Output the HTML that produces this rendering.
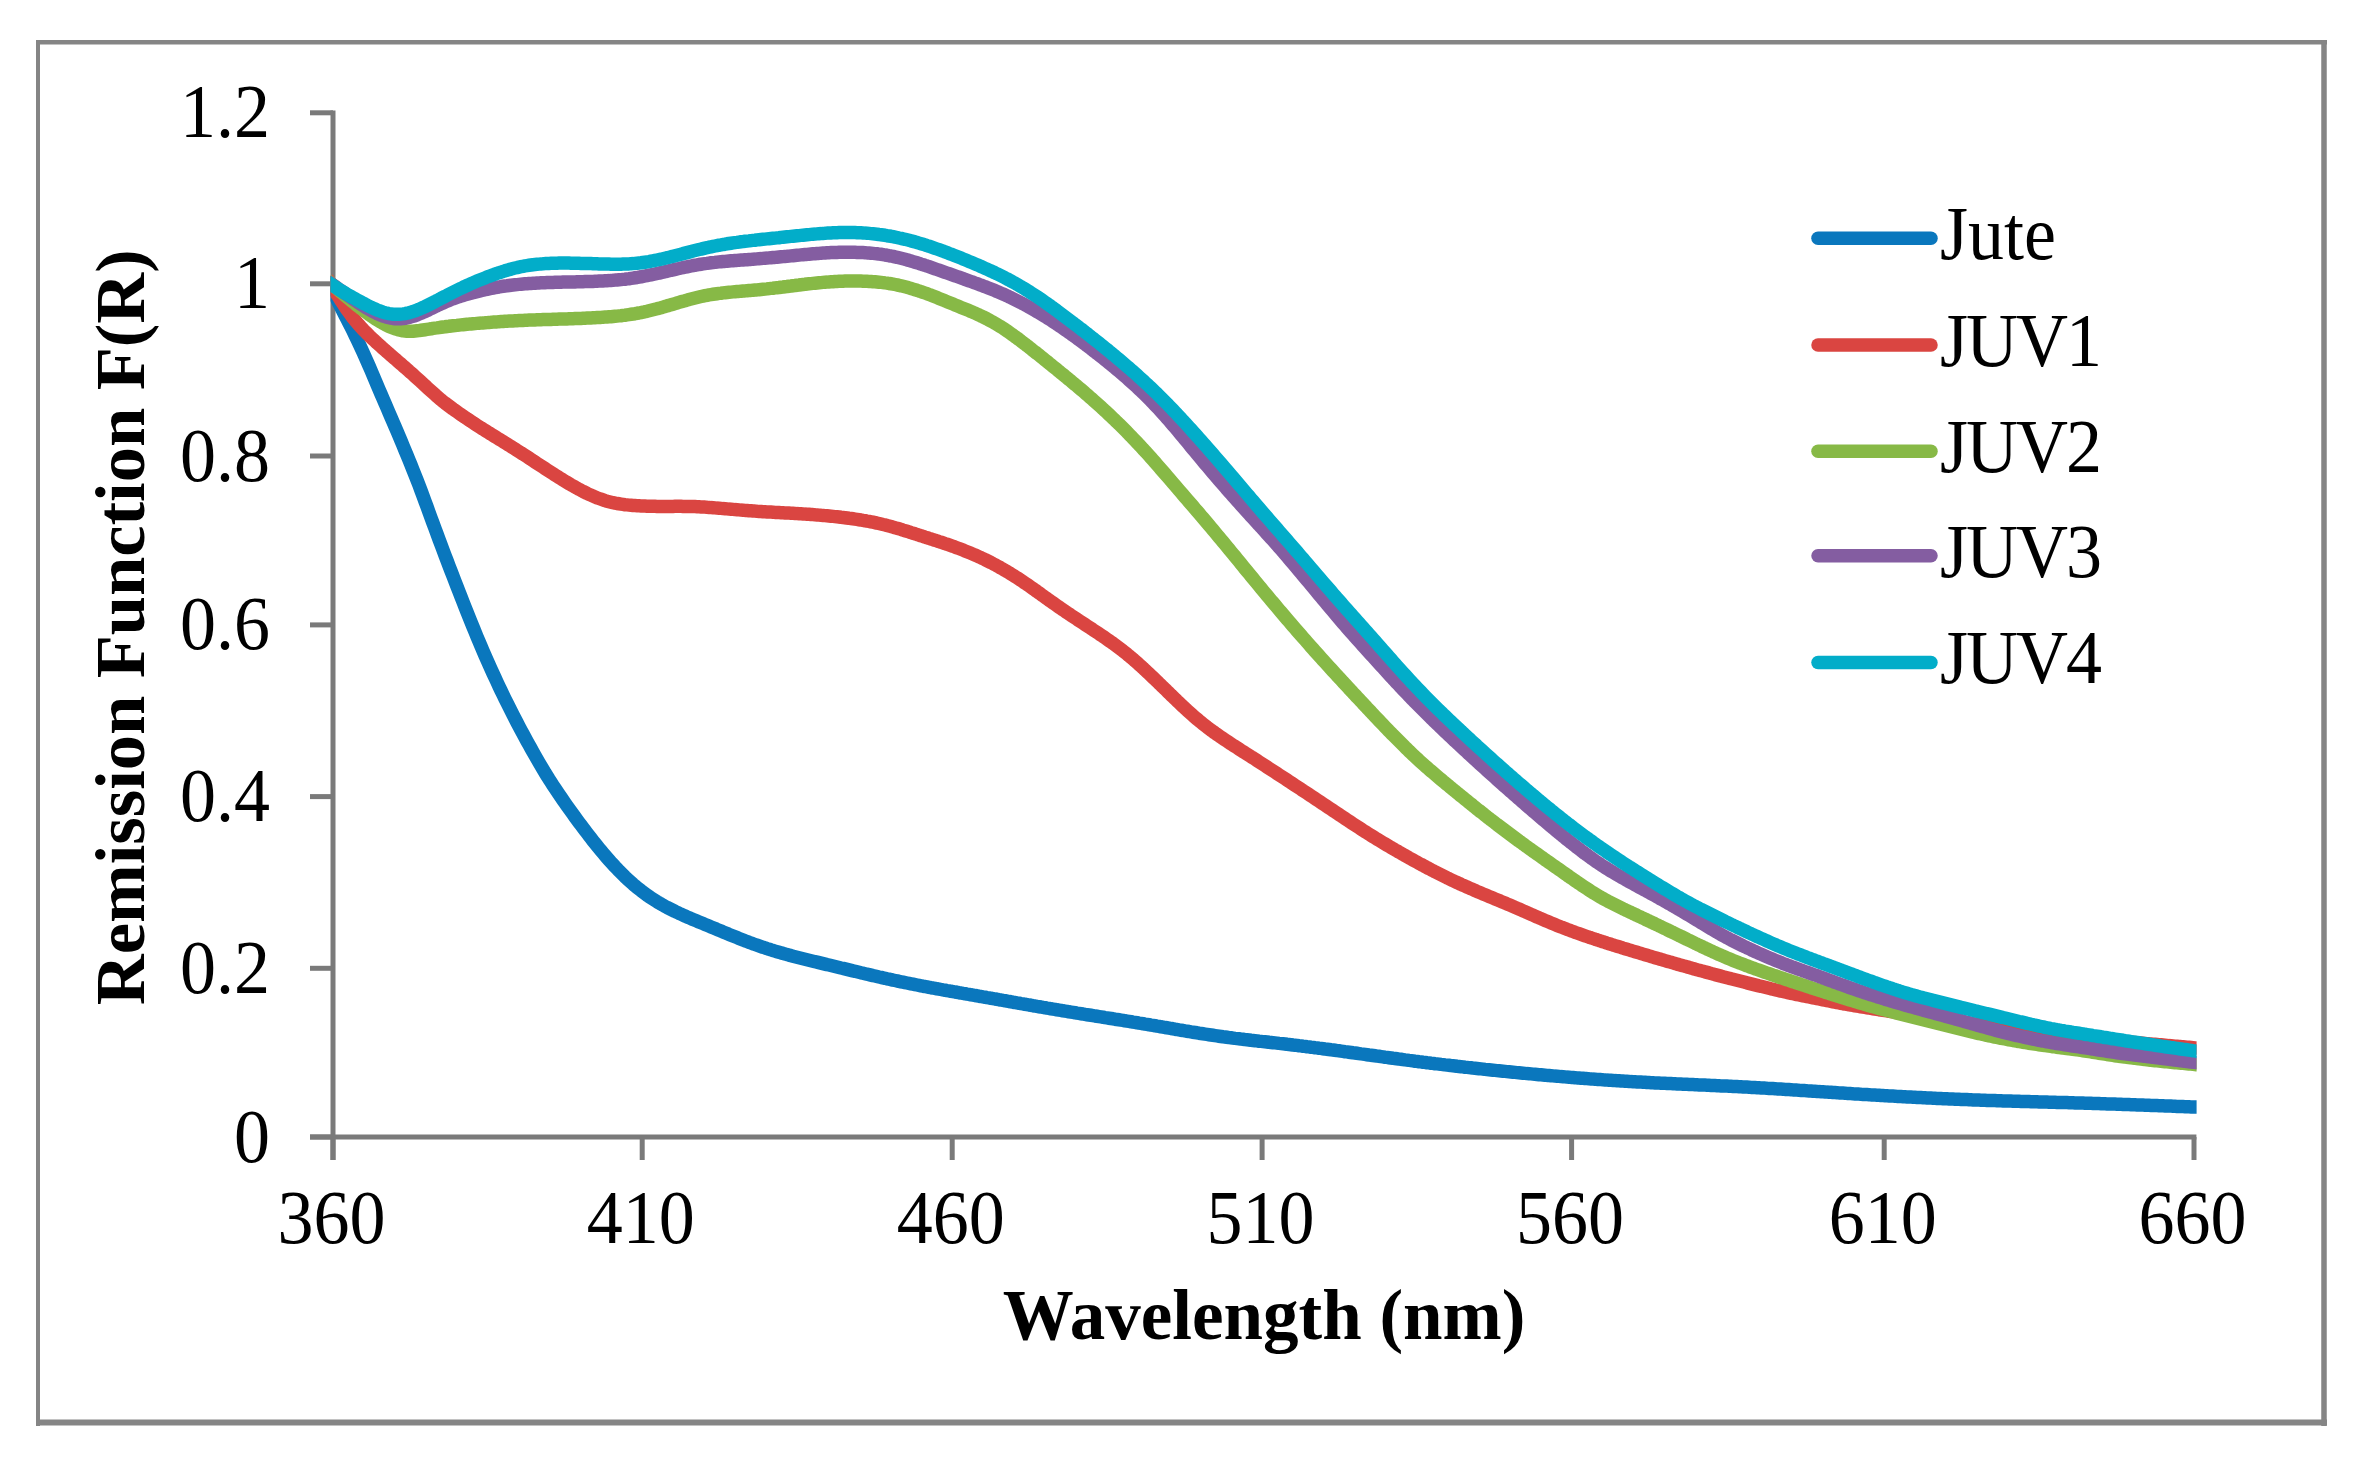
<!DOCTYPE html>
<html><head><meta charset="utf-8"><style>
html,body{margin:0;padding:0;background:#fff;}
body{width:2366px;height:1462px;overflow:hidden;}
svg{display:block;}
text{font-family:"Liberation Serif","Times New Roman",serif;font-size:72px;fill:#000;}
.b{font-weight:bold;font-size:71px;}
.yt{font-weight:bold;font-size:70.5px;}
</style></head><body>
<svg width="2366" height="1462" viewBox="0 0 2366 1462" xmlns="http://www.w3.org/2000/svg">

<defs><clipPath id="pa"><rect x="330.5" y="0" width="1866.1" height="1462"/></clipPath></defs>
<g>
<rect x="0" y="0" width="2366" height="1462" fill="#fff"/>
<g stroke="#858585" fill="none">
<line x1="36" y1="42.2" x2="2327" y2="42.2" stroke-width="4.5"/>
<line x1="38" y1="40" x2="38" y2="1426" stroke-width="4"/>
<line x1="2324" y1="40" x2="2324" y2="1426" stroke-width="5.5"/>
<line x1="36" y1="1422.5" x2="2327" y2="1422.5" stroke-width="6"/>
</g>
<g stroke="#7a7a7a" stroke-width="5" fill="none">
<line x1="333" y1="110.39999999999999" x2="333" y2="1160" />
<line x1="310" y1="1137" x2="2196.4" y2="1137" />
<line x1="310" y1="1137.0" x2="333" y2="1137.0" />
<line x1="310" y1="968.3" x2="333" y2="968.3" />
<line x1="310" y1="796.6" x2="333" y2="796.6" />
<line x1="310" y1="624.9" x2="333" y2="624.9" />
<line x1="310" y1="456.0" x2="333" y2="456.0" />
<line x1="310" y1="283.8" x2="333" y2="283.8" />
<line x1="310" y1="112.8" x2="333" y2="112.8" />
<line x1="333.0" y1="1137" x2="333.0" y2="1160" />
<line x1="642.2" y1="1137" x2="642.2" y2="1160" />
<line x1="952.2" y1="1137" x2="952.2" y2="1160" />
<line x1="1262.1" y1="1137" x2="1262.1" y2="1160" />
<line x1="1571.6" y1="1137" x2="1571.6" y2="1160" />
<line x1="1884.2" y1="1137" x2="1884.2" y2="1160" />
<line x1="2194.0" y1="1137" x2="2194.0" y2="1160" />
</g>
<g fill="none" stroke-width="13.5" stroke-linejoin="round" stroke-linecap="butt" clip-path="url(#pa)">
<path d="M327.0,280.3 L333.0,291.9 L335.0,295.8 L337.0,299.7 L339.0,303.6 L341.0,307.5 L343.0,311.4 L345.0,315.3 L347.0,319.2 L349.0,323.1 L351.0,327.1 L353.0,331.1 L355.0,335.2 L357.0,339.4 L359.0,343.6 L361.0,347.9 L363.0,352.3 L365.0,356.7 L367.0,361.2 L369.0,365.8 L371.0,370.4 L373.0,375.1 L375.0,379.8 L377.0,384.6 L379.0,389.3 L381.0,394.0 L383.0,398.7 L385.0,403.3 L387.0,407.9 L389.0,412.6 L391.0,417.2 L393.0,421.9 L395.0,426.5 L397.0,431.2 L399.0,435.9 L401.0,440.7 L403.0,445.5 L405.0,450.3 L407.0,455.1 L409.0,460.0 L411.0,464.9 L413.0,469.9 L415.0,474.9 L417.0,480.0 L419.0,485.2 L421.0,490.5 L423.0,495.9 L425.0,501.3 L427.0,506.7 L429.0,512.2 L431.0,517.7 L433.0,523.1 L435.0,528.5 L437.0,533.9 L439.0,539.3 L441.0,544.6 L443.0,550.0 L445.0,555.3 L447.0,560.5 L449.0,565.8 L451.0,571.0 L453.0,576.2 L455.0,581.4 L457.0,586.5 L459.0,591.7 L461.0,596.8 L463.0,601.9 L465.0,606.9 L467.0,612.0 L469.0,617.0 L471.0,622.0 L473.0,626.9 L475.0,631.8 L477.0,636.7 L479.0,641.4 L481.0,646.2 L483.0,650.9 L485.0,655.5 L487.0,660.0 L489.0,664.5 L491.0,669.0 L493.0,673.4 L495.0,677.7 L497.0,682.0 L499.0,686.3 L501.0,690.5 L503.0,694.6 L505.0,698.8 L507.0,702.8 L509.0,706.8 L511.0,710.8 L513.0,714.8 L515.0,718.7 L517.0,722.5 L519.0,726.3 L521.0,730.1 L523.0,733.8 L525.0,737.5 L527.0,741.2 L529.0,744.8 L531.0,748.4 L533.0,752.0 L535.0,755.5 L537.0,759.0 L539.0,762.5 L541.0,765.9 L543.0,769.2 L545.0,772.6 L547.0,775.8 L549.0,779.1 L551.0,782.2 L553.0,785.3 L555.0,788.3 L557.0,791.3 L559.0,794.3 L561.0,797.2 L563.0,800.1 L565.0,803.0 L567.0,805.8 L569.0,808.6 L571.0,811.4 L573.0,814.2 L575.0,817.0 L577.0,819.7 L579.0,822.4 L581.0,825.1 L583.0,827.8 L585.0,830.4 L587.0,833.0 L589.0,835.6 L591.0,838.2 L593.0,840.8 L595.0,843.3 L597.0,845.8 L599.0,848.2 L601.0,850.6 L603.0,853.0 L605.0,855.4 L607.0,857.7 L609.0,860.0 L611.0,862.2 L613.0,864.4 L615.0,866.6 L617.0,868.7 L619.0,870.8 L621.0,872.8 L623.0,874.8 L625.0,876.8 L627.0,878.7 L629.0,880.5 L631.0,882.3 L633.0,884.1 L635.0,885.8 L637.0,887.4 L639.0,889.0 L641.0,890.6 L643.0,892.1 L645.0,893.6 L647.0,895.1 L649.0,896.5 L651.0,897.8 L653.0,899.1 L655.0,900.4 L657.0,901.7 L659.0,902.9 L661.0,904.0 L663.0,905.2 L665.0,906.3 L667.0,907.4 L669.0,908.4 L671.0,909.4 L673.0,910.4 L675.0,911.4 L677.0,912.3 L679.0,913.3 L681.0,914.2 L683.0,915.1 L685.0,916.0 L687.0,916.9 L689.0,917.7 L691.0,918.6 L693.0,919.5 L695.0,920.3 L697.0,921.1 L699.0,922.0 L701.0,922.8 L703.0,923.6 L705.0,924.4 L707.0,925.2 L709.0,926.1 L711.0,926.9 L713.0,927.7 L715.0,928.5 L717.0,929.4 L719.0,930.2 L721.0,931.0 L723.0,931.9 L725.0,932.7 L727.0,933.5 L729.0,934.4 L731.0,935.2 L733.0,936.0 L735.0,936.8 L737.0,937.6 L739.0,938.4 L741.0,939.2 L743.0,940.0 L745.0,940.8 L747.0,941.5 L749.0,942.3 L751.0,943.0 L753.0,943.8 L755.0,944.5 L757.0,945.2 L759.0,945.9 L761.0,946.6 L763.0,947.3 L765.0,947.9 L767.0,948.6 L769.0,949.2 L771.0,949.9 L773.0,950.5 L775.0,951.1 L777.0,951.7 L779.0,952.3 L781.0,952.9 L783.0,953.4 L785.0,954.0 L787.0,954.5 L789.0,955.1 L791.0,955.6 L793.0,956.2 L795.0,956.7 L797.0,957.2 L799.0,957.7 L801.0,958.2 L803.0,958.7 L805.0,959.2 L807.0,959.7 L809.0,960.2 L811.0,960.7 L813.0,961.2 L815.0,961.7 L817.0,962.1 L819.0,962.6 L821.0,963.1 L823.0,963.6 L825.0,964.1 L827.0,964.6 L829.0,965.0 L831.0,965.5 L833.0,966.0 L835.0,966.5 L837.0,967.0 L839.0,967.5 L841.0,968.0 L843.0,968.4 L845.0,968.9 L847.0,969.4 L849.0,969.9 L851.0,970.4 L853.0,970.9 L855.0,971.3 L857.0,971.8 L859.0,972.3 L861.0,972.8 L863.0,973.2 L865.0,973.7 L867.0,974.2 L869.0,974.6 L871.0,975.1 L873.0,975.6 L875.0,976.0 L877.0,976.5 L879.0,977.0 L881.0,977.4 L883.0,977.9 L885.0,978.3 L887.0,978.8 L889.0,979.2 L891.0,979.6 L893.0,980.1 L895.0,980.5 L897.0,980.9 L899.0,981.4 L901.0,981.8 L903.0,982.2 L905.0,982.6 L907.0,983.0 L909.0,983.4 L911.0,983.8 L913.0,984.2 L915.0,984.6 L917.0,985.0 L919.0,985.4 L921.0,985.8 L923.0,986.2 L925.0,986.5 L927.0,986.9 L929.0,987.3 L931.0,987.7 L933.0,988.0 L935.0,988.4 L937.0,988.8 L939.0,989.1 L941.0,989.5 L943.0,989.9 L945.0,990.2 L947.0,990.6 L949.0,990.9 L951.0,991.3 L953.0,991.6 L955.0,992.0 L957.0,992.3 L959.0,992.7 L961.0,993.0 L963.0,993.4 L965.0,993.7 L967.0,994.1 L969.0,994.4 L971.0,994.8 L973.0,995.1 L975.0,995.5 L977.0,995.8 L979.0,996.2 L981.0,996.5 L983.0,996.9 L985.0,997.2 L987.0,997.6 L989.0,997.9 L991.0,998.3 L993.0,998.6 L995.0,999.0 L997.0,999.3 L999.0,999.7 L1001.0,1000.0 L1003.0,1000.4 L1005.0,1000.7 L1007.0,1001.1 L1009.0,1001.5 L1011.0,1001.8 L1013.0,1002.2 L1015.0,1002.5 L1017.0,1002.9 L1019.0,1003.2 L1021.0,1003.6 L1023.0,1003.9 L1025.0,1004.3 L1027.0,1004.6 L1029.0,1005.0 L1031.0,1005.3 L1033.0,1005.7 L1035.0,1006.0 L1037.0,1006.4 L1039.0,1006.7 L1041.0,1007.0 L1043.0,1007.4 L1045.0,1007.7 L1047.0,1008.1 L1049.0,1008.4 L1051.0,1008.8 L1053.0,1009.1 L1055.0,1009.4 L1057.0,1009.8 L1059.0,1010.1 L1061.0,1010.4 L1063.0,1010.8 L1065.0,1011.1 L1067.0,1011.4 L1069.0,1011.8 L1071.0,1012.1 L1073.0,1012.4 L1075.0,1012.7 L1077.0,1013.1 L1079.0,1013.4 L1081.0,1013.7 L1083.0,1014.0 L1085.0,1014.4 L1087.0,1014.7 L1089.0,1015.0 L1091.0,1015.3 L1093.0,1015.6 L1095.0,1016.0 L1097.0,1016.3 L1099.0,1016.6 L1101.0,1016.9 L1103.0,1017.2 L1105.0,1017.6 L1107.0,1017.9 L1109.0,1018.2 L1111.0,1018.5 L1113.0,1018.8 L1115.0,1019.2 L1117.0,1019.5 L1119.0,1019.8 L1121.0,1020.1 L1123.0,1020.4 L1125.0,1020.8 L1127.0,1021.1 L1129.0,1021.4 L1131.0,1021.7 L1133.0,1022.1 L1135.0,1022.4 L1137.0,1022.7 L1139.0,1023.1 L1141.0,1023.4 L1143.0,1023.7 L1145.0,1024.1 L1147.0,1024.4 L1149.0,1024.7 L1151.0,1025.1 L1153.0,1025.4 L1155.0,1025.7 L1157.0,1026.1 L1159.0,1026.4 L1161.0,1026.8 L1163.0,1027.1 L1165.0,1027.5 L1167.0,1027.8 L1169.0,1028.1 L1171.0,1028.5 L1173.0,1028.8 L1175.0,1029.2 L1177.0,1029.5 L1179.0,1029.9 L1181.0,1030.2 L1183.0,1030.5 L1185.0,1030.9 L1187.0,1031.2 L1189.0,1031.5 L1191.0,1031.9 L1193.0,1032.2 L1195.0,1032.5 L1197.0,1032.8 L1199.0,1033.2 L1201.0,1033.5 L1203.0,1033.8 L1205.0,1034.1 L1207.0,1034.4 L1209.0,1034.7 L1211.0,1035.0 L1213.0,1035.3 L1215.0,1035.6 L1217.0,1035.9 L1219.0,1036.2 L1221.0,1036.5 L1223.0,1036.8 L1225.0,1037.0 L1227.0,1037.3 L1229.0,1037.6 L1231.0,1037.8 L1233.0,1038.1 L1235.0,1038.4 L1237.0,1038.6 L1239.0,1038.8 L1241.0,1039.1 L1243.0,1039.3 L1245.0,1039.6 L1247.0,1039.8 L1249.0,1040.0 L1251.0,1040.3 L1253.0,1040.5 L1255.0,1040.7 L1257.0,1040.9 L1259.0,1041.2 L1261.0,1041.4 L1263.0,1041.6 L1265.0,1041.8 L1267.0,1042.0 L1269.0,1042.3 L1271.0,1042.5 L1273.0,1042.7 L1275.0,1042.9 L1277.0,1043.1 L1279.0,1043.4 L1281.0,1043.6 L1283.0,1043.8 L1285.0,1044.0 L1287.0,1044.3 L1289.0,1044.5 L1291.0,1044.7 L1293.0,1045.0 L1295.0,1045.2 L1297.0,1045.4 L1299.0,1045.7 L1301.0,1045.9 L1303.0,1046.2 L1305.0,1046.4 L1307.0,1046.7 L1309.0,1046.9 L1311.0,1047.2 L1313.0,1047.4 L1315.0,1047.7 L1317.0,1047.9 L1319.0,1048.2 L1321.0,1048.4 L1323.0,1048.7 L1325.0,1049.0 L1327.0,1049.2 L1329.0,1049.5 L1331.0,1049.8 L1333.0,1050.0 L1335.0,1050.3 L1337.0,1050.6 L1339.0,1050.8 L1341.0,1051.1 L1343.0,1051.4 L1345.0,1051.7 L1347.0,1051.9 L1349.0,1052.2 L1351.0,1052.5 L1353.0,1052.8 L1355.0,1053.0 L1357.0,1053.3 L1359.0,1053.6 L1361.0,1053.9 L1363.0,1054.1 L1365.0,1054.4 L1367.0,1054.7 L1369.0,1055.0 L1371.0,1055.2 L1373.0,1055.5 L1375.0,1055.8 L1377.0,1056.1 L1379.0,1056.3 L1381.0,1056.6 L1383.0,1056.9 L1385.0,1057.2 L1387.0,1057.4 L1389.0,1057.7 L1391.0,1058.0 L1393.0,1058.3 L1395.0,1058.5 L1397.0,1058.8 L1399.0,1059.1 L1401.0,1059.3 L1403.0,1059.6 L1405.0,1059.9 L1407.0,1060.1 L1409.0,1060.4 L1411.0,1060.6 L1413.0,1060.9 L1415.0,1061.2 L1417.0,1061.4 L1419.0,1061.7 L1421.0,1061.9 L1423.0,1062.2 L1425.0,1062.4 L1427.0,1062.7 L1429.0,1062.9 L1431.0,1063.2 L1433.0,1063.4 L1435.0,1063.7 L1437.0,1063.9 L1439.0,1064.1 L1441.0,1064.4 L1443.0,1064.6 L1445.0,1064.9 L1447.0,1065.1 L1449.0,1065.3 L1451.0,1065.6 L1453.0,1065.8 L1455.0,1066.0 L1457.0,1066.3 L1459.0,1066.5 L1461.0,1066.7 L1463.0,1066.9 L1465.0,1067.2 L1467.0,1067.4 L1469.0,1067.6 L1471.0,1067.8 L1473.0,1068.1 L1475.0,1068.3 L1477.0,1068.5 L1479.0,1068.7 L1481.0,1068.9 L1483.0,1069.1 L1485.0,1069.4 L1487.0,1069.6 L1489.0,1069.8 L1491.0,1070.0 L1493.0,1070.2 L1495.0,1070.4 L1497.0,1070.6 L1499.0,1070.8 L1501.0,1071.0 L1503.0,1071.2 L1505.0,1071.4 L1507.0,1071.6 L1509.0,1071.8 L1511.0,1072.0 L1513.0,1072.2 L1515.0,1072.4 L1517.0,1072.6 L1519.0,1072.8 L1521.0,1073.0 L1523.0,1073.2 L1525.0,1073.4 L1527.0,1073.6 L1529.0,1073.7 L1531.0,1073.9 L1533.0,1074.1 L1535.0,1074.3 L1537.0,1074.5 L1539.0,1074.7 L1541.0,1074.8 L1543.0,1075.0 L1545.0,1075.2 L1547.0,1075.4 L1549.0,1075.5 L1551.0,1075.7 L1553.0,1075.9 L1555.0,1076.1 L1557.0,1076.2 L1559.0,1076.4 L1561.0,1076.6 L1563.0,1076.7 L1565.0,1076.9 L1567.0,1077.1 L1569.0,1077.2 L1571.0,1077.4 L1573.0,1077.5 L1575.0,1077.7 L1577.0,1077.9 L1579.0,1078.0 L1581.0,1078.2 L1583.0,1078.3 L1585.0,1078.5 L1587.0,1078.6 L1589.0,1078.8 L1591.0,1078.9 L1593.0,1079.1 L1595.0,1079.2 L1597.0,1079.4 L1599.0,1079.5 L1601.0,1079.6 L1603.0,1079.8 L1605.0,1079.9 L1607.0,1080.1 L1609.0,1080.2 L1611.0,1080.3 L1613.0,1080.4 L1615.0,1080.6 L1617.0,1080.7 L1619.0,1080.8 L1621.0,1081.0 L1623.0,1081.1 L1625.0,1081.2 L1627.0,1081.3 L1629.0,1081.4 L1631.0,1081.6 L1633.0,1081.7 L1635.0,1081.8 L1637.0,1081.9 L1639.0,1082.0 L1641.0,1082.1 L1643.0,1082.2 L1645.0,1082.3 L1647.0,1082.5 L1649.0,1082.6 L1651.0,1082.7 L1653.0,1082.8 L1655.0,1082.9 L1657.0,1083.0 L1659.0,1083.1 L1661.0,1083.2 L1663.0,1083.3 L1665.0,1083.3 L1667.0,1083.4 L1669.0,1083.5 L1671.0,1083.6 L1673.0,1083.7 L1675.0,1083.8 L1677.0,1083.9 L1679.0,1084.0 L1681.0,1084.1 L1683.0,1084.2 L1685.0,1084.3 L1687.0,1084.3 L1689.0,1084.4 L1691.0,1084.5 L1693.0,1084.6 L1695.0,1084.7 L1697.0,1084.8 L1699.0,1084.9 L1701.0,1085.0 L1703.0,1085.1 L1705.0,1085.1 L1707.0,1085.2 L1709.0,1085.3 L1711.0,1085.4 L1713.0,1085.5 L1715.0,1085.6 L1717.0,1085.7 L1719.0,1085.8 L1721.0,1085.9 L1723.0,1086.0 L1725.0,1086.0 L1727.0,1086.1 L1729.0,1086.2 L1731.0,1086.3 L1733.0,1086.4 L1735.0,1086.5 L1737.0,1086.6 L1739.0,1086.7 L1741.0,1086.8 L1743.0,1086.9 L1745.0,1087.0 L1747.0,1087.1 L1749.0,1087.2 L1751.0,1087.4 L1753.0,1087.5 L1755.0,1087.6 L1757.0,1087.7 L1759.0,1087.8 L1761.0,1087.9 L1763.0,1088.0 L1765.0,1088.1 L1767.0,1088.3 L1769.0,1088.4 L1771.0,1088.5 L1773.0,1088.6 L1775.0,1088.7 L1777.0,1088.9 L1779.0,1089.0 L1781.0,1089.1 L1783.0,1089.2 L1785.0,1089.4 L1787.0,1089.5 L1789.0,1089.6 L1791.0,1089.7 L1793.0,1089.9 L1795.0,1090.0 L1797.0,1090.1 L1799.0,1090.3 L1801.0,1090.4 L1803.0,1090.5 L1805.0,1090.6 L1807.0,1090.8 L1809.0,1090.9 L1811.0,1091.0 L1813.0,1091.2 L1815.0,1091.3 L1817.0,1091.4 L1819.0,1091.6 L1821.0,1091.7 L1823.0,1091.8 L1825.0,1091.9 L1827.0,1092.1 L1829.0,1092.2 L1831.0,1092.3 L1833.0,1092.5 L1835.0,1092.6 L1837.0,1092.7 L1839.0,1092.9 L1841.0,1093.0 L1843.0,1093.1 L1845.0,1093.2 L1847.0,1093.4 L1849.0,1093.5 L1851.0,1093.6 L1853.0,1093.8 L1855.0,1093.9 L1857.0,1094.0 L1859.0,1094.1 L1861.0,1094.3 L1863.0,1094.4 L1865.0,1094.5 L1867.0,1094.6 L1869.0,1094.7 L1871.0,1094.9 L1873.0,1095.0 L1875.0,1095.1 L1877.0,1095.2 L1879.0,1095.3 L1881.0,1095.5 L1883.0,1095.6 L1885.0,1095.7 L1887.0,1095.8 L1889.0,1095.9 L1891.0,1096.0 L1893.0,1096.1 L1895.0,1096.2 L1897.0,1096.4 L1899.0,1096.5 L1901.0,1096.6 L1903.0,1096.7 L1905.0,1096.8 L1907.0,1096.9 L1909.0,1097.0 L1911.0,1097.1 L1913.0,1097.2 L1915.0,1097.3 L1917.0,1097.4 L1919.0,1097.5 L1921.0,1097.6 L1923.0,1097.7 L1925.0,1097.8 L1927.0,1097.9 L1929.0,1098.0 L1931.0,1098.1 L1933.0,1098.2 L1935.0,1098.3 L1937.0,1098.4 L1939.0,1098.5 L1941.0,1098.6 L1943.0,1098.7 L1945.0,1098.7 L1947.0,1098.8 L1949.0,1098.9 L1951.0,1099.0 L1953.0,1099.1 L1955.0,1099.2 L1957.0,1099.3 L1959.0,1099.3 L1961.0,1099.4 L1963.0,1099.5 L1965.0,1099.6 L1967.0,1099.6 L1969.0,1099.7 L1971.0,1099.8 L1973.0,1099.9 L1975.0,1099.9 L1977.0,1100.0 L1979.0,1100.1 L1981.0,1100.2 L1983.0,1100.2 L1985.0,1100.3 L1987.0,1100.4 L1989.0,1100.4 L1991.0,1100.5 L1993.0,1100.6 L1995.0,1100.6 L1997.0,1100.7 L1999.0,1100.7 L2001.0,1100.8 L2003.0,1100.9 L2005.0,1100.9 L2007.0,1101.0 L2009.0,1101.0 L2011.0,1101.1 L2013.0,1101.2 L2015.0,1101.2 L2017.0,1101.3 L2019.0,1101.3 L2021.0,1101.4 L2023.0,1101.4 L2025.0,1101.5 L2027.0,1101.6 L2029.0,1101.6 L2031.0,1101.7 L2033.0,1101.7 L2035.0,1101.8 L2037.0,1101.8 L2039.0,1101.9 L2041.0,1101.9 L2043.0,1102.0 L2045.0,1102.0 L2047.0,1102.1 L2049.0,1102.2 L2051.0,1102.2 L2053.0,1102.3 L2055.0,1102.3 L2057.0,1102.4 L2059.0,1102.4 L2061.0,1102.5 L2063.0,1102.5 L2065.0,1102.6 L2067.0,1102.6 L2069.0,1102.7 L2071.0,1102.8 L2073.0,1102.8 L2075.0,1102.9 L2077.0,1102.9 L2079.0,1103.0 L2081.0,1103.0 L2083.0,1103.1 L2085.0,1103.2 L2087.0,1103.2 L2089.0,1103.3 L2091.0,1103.3 L2093.0,1103.4 L2095.0,1103.5 L2097.0,1103.5 L2099.0,1103.6 L2101.0,1103.7 L2103.0,1103.7 L2105.0,1103.8 L2107.0,1103.9 L2109.0,1103.9 L2111.0,1104.0 L2113.0,1104.1 L2115.0,1104.1 L2117.0,1104.2 L2119.0,1104.3 L2121.0,1104.3 L2123.0,1104.4 L2125.0,1104.5 L2127.0,1104.5 L2129.0,1104.6 L2131.0,1104.7 L2133.0,1104.7 L2135.0,1104.8 L2137.0,1104.9 L2139.0,1105.0 L2141.0,1105.0 L2143.0,1105.1 L2145.0,1105.2 L2147.0,1105.2 L2149.0,1105.3 L2151.0,1105.4 L2153.0,1105.5 L2155.0,1105.5 L2157.0,1105.6 L2159.0,1105.7 L2161.0,1105.8 L2163.0,1105.8 L2165.0,1105.9 L2167.0,1106.0 L2169.0,1106.1 L2171.0,1106.1 L2173.0,1106.2 L2175.0,1106.3 L2177.0,1106.4 L2179.0,1106.4 L2181.0,1106.5 L2183.0,1106.6 L2185.0,1106.7 L2187.0,1106.7 L2189.0,1106.8 L2191.0,1106.9 L2193.0,1107.0 L2195.0,1107.0 L2196.6,1107.1 L2202.6,1107.3" stroke="#0A77BD"/>
<path d="M327.0,278.2 L333.0,287.8 L335.0,291.1 L337.0,294.3 L339.0,297.4 L341.0,300.6 L343.0,303.7 L345.0,306.7 L347.0,309.6 L349.0,312.4 L351.0,315.2 L353.0,317.8 L355.0,320.3 L357.0,322.7 L359.0,325.0 L361.0,327.2 L363.0,329.4 L365.0,331.4 L367.0,333.5 L369.0,335.4 L371.0,337.4 L373.0,339.3 L375.0,341.1 L377.0,343.0 L379.0,344.8 L381.0,346.6 L383.0,348.4 L385.0,350.1 L387.0,351.9 L389.0,353.6 L391.0,355.4 L393.0,357.1 L395.0,358.8 L397.0,360.6 L399.0,362.3 L401.0,364.0 L403.0,365.8 L405.0,367.5 L407.0,369.3 L409.0,371.1 L411.0,372.8 L413.0,374.6 L415.0,376.4 L417.0,378.2 L419.0,380.0 L421.0,381.8 L423.0,383.7 L425.0,385.5 L427.0,387.4 L429.0,389.2 L431.0,391.0 L433.0,392.8 L435.0,394.6 L437.0,396.4 L439.0,398.1 L441.0,399.8 L443.0,401.4 L445.0,403.0 L447.0,404.5 L449.0,406.0 L451.0,407.5 L453.0,409.0 L455.0,410.4 L457.0,411.8 L459.0,413.2 L461.0,414.6 L463.0,416.0 L465.0,417.3 L467.0,418.7 L469.0,420.0 L471.0,421.3 L473.0,422.7 L475.0,424.0 L477.0,425.3 L479.0,426.6 L481.0,427.9 L483.0,429.1 L485.0,430.4 L487.0,431.6 L489.0,432.9 L491.0,434.1 L493.0,435.4 L495.0,436.6 L497.0,437.8 L499.0,439.1 L501.0,440.3 L503.0,441.5 L505.0,442.8 L507.0,444.0 L509.0,445.3 L511.0,446.5 L513.0,447.8 L515.0,449.0 L517.0,450.3 L519.0,451.6 L521.0,452.9 L523.0,454.1 L525.0,455.4 L527.0,456.7 L529.0,458.0 L531.0,459.3 L533.0,460.7 L535.0,462.0 L537.0,463.3 L539.0,464.6 L541.0,465.9 L543.0,467.2 L545.0,468.5 L547.0,469.8 L549.0,471.1 L551.0,472.4 L553.0,473.7 L555.0,475.0 L557.0,476.2 L559.0,477.5 L561.0,478.7 L563.0,480.0 L565.0,481.2 L567.0,482.4 L569.0,483.6 L571.0,484.8 L573.0,485.9 L575.0,487.0 L577.0,488.2 L579.0,489.3 L581.0,490.3 L583.0,491.4 L585.0,492.4 L587.0,493.4 L589.0,494.3 L591.0,495.2 L593.0,496.1 L595.0,496.9 L597.0,497.8 L599.0,498.5 L601.0,499.2 L603.0,499.9 L605.0,500.6 L607.0,501.2 L609.0,501.7 L611.0,502.2 L613.0,502.7 L615.0,503.1 L617.0,503.5 L619.0,503.8 L621.0,504.1 L623.0,504.4 L625.0,504.7 L627.0,504.9 L629.0,505.1 L631.0,505.3 L633.0,505.5 L635.0,505.6 L637.0,505.7 L639.0,505.8 L641.0,505.9 L643.0,506.0 L645.0,506.1 L647.0,506.2 L649.0,506.2 L651.0,506.3 L653.0,506.3 L655.0,506.3 L657.0,506.4 L659.0,506.4 L661.0,506.4 L663.0,506.4 L665.0,506.4 L667.0,506.4 L669.0,506.4 L671.0,506.4 L673.0,506.4 L675.0,506.3 L677.0,506.3 L679.0,506.3 L681.0,506.3 L683.0,506.4 L685.0,506.4 L687.0,506.4 L689.0,506.4 L691.0,506.5 L693.0,506.5 L695.0,506.6 L697.0,506.7 L699.0,506.8 L701.0,506.9 L703.0,507.0 L705.0,507.1 L707.0,507.3 L709.0,507.4 L711.0,507.6 L713.0,507.7 L715.0,507.9 L717.0,508.1 L719.0,508.2 L721.0,508.4 L723.0,508.6 L725.0,508.7 L727.0,508.9 L729.0,509.1 L731.0,509.2 L733.0,509.4 L735.0,509.6 L737.0,509.7 L739.0,509.9 L741.0,510.1 L743.0,510.2 L745.0,510.4 L747.0,510.5 L749.0,510.7 L751.0,510.8 L753.0,511.0 L755.0,511.1 L757.0,511.3 L759.0,511.4 L761.0,511.5 L763.0,511.7 L765.0,511.8 L767.0,511.9 L769.0,512.0 L771.0,512.1 L773.0,512.2 L775.0,512.4 L777.0,512.5 L779.0,512.6 L781.0,512.7 L783.0,512.8 L785.0,512.9 L787.0,513.0 L789.0,513.1 L791.0,513.2 L793.0,513.3 L795.0,513.4 L797.0,513.6 L799.0,513.7 L801.0,513.8 L803.0,513.9 L805.0,514.1 L807.0,514.2 L809.0,514.3 L811.0,514.5 L813.0,514.6 L815.0,514.8 L817.0,514.9 L819.0,515.1 L821.0,515.3 L823.0,515.4 L825.0,515.6 L827.0,515.8 L829.0,516.0 L831.0,516.2 L833.0,516.4 L835.0,516.6 L837.0,516.8 L839.0,517.0 L841.0,517.3 L843.0,517.5 L845.0,517.7 L847.0,518.0 L849.0,518.3 L851.0,518.5 L853.0,518.8 L855.0,519.1 L857.0,519.4 L859.0,519.7 L861.0,520.0 L863.0,520.4 L865.0,520.7 L867.0,521.1 L869.0,521.4 L871.0,521.8 L873.0,522.2 L875.0,522.6 L877.0,523.1 L879.0,523.5 L881.0,524.0 L883.0,524.5 L885.0,524.9 L887.0,525.5 L889.0,526.0 L891.0,526.5 L893.0,527.1 L895.0,527.7 L897.0,528.2 L899.0,528.8 L901.0,529.4 L903.0,530.1 L905.0,530.7 L907.0,531.3 L909.0,531.9 L911.0,532.6 L913.0,533.2 L915.0,533.8 L917.0,534.5 L919.0,535.1 L921.0,535.8 L923.0,536.4 L925.0,537.1 L927.0,537.7 L929.0,538.4 L931.0,539.0 L933.0,539.6 L935.0,540.3 L937.0,540.9 L939.0,541.6 L941.0,542.2 L943.0,542.9 L945.0,543.6 L947.0,544.2 L949.0,544.9 L951.0,545.6 L953.0,546.3 L955.0,547.1 L957.0,547.8 L959.0,548.5 L961.0,549.3 L963.0,550.1 L965.0,550.9 L967.0,551.7 L969.0,552.5 L971.0,553.3 L973.0,554.2 L975.0,555.0 L977.0,555.9 L979.0,556.8 L981.0,557.7 L983.0,558.7 L985.0,559.6 L987.0,560.6 L989.0,561.6 L991.0,562.6 L993.0,563.7 L995.0,564.7 L997.0,565.8 L999.0,566.9 L1001.0,568.1 L1003.0,569.2 L1005.0,570.4 L1007.0,571.5 L1009.0,572.7 L1011.0,574.0 L1013.0,575.2 L1015.0,576.5 L1017.0,577.7 L1019.0,579.0 L1021.0,580.4 L1023.0,581.7 L1025.0,583.1 L1027.0,584.4 L1029.0,585.8 L1031.0,587.2 L1033.0,588.6 L1035.0,590.0 L1037.0,591.5 L1039.0,592.9 L1041.0,594.3 L1043.0,595.8 L1045.0,597.2 L1047.0,598.6 L1049.0,600.1 L1051.0,601.5 L1053.0,602.9 L1055.0,604.3 L1057.0,605.7 L1059.0,607.1 L1061.0,608.5 L1063.0,609.9 L1065.0,611.2 L1067.0,612.6 L1069.0,613.9 L1071.0,615.3 L1073.0,616.6 L1075.0,617.9 L1077.0,619.2 L1079.0,620.6 L1081.0,621.9 L1083.0,623.2 L1085.0,624.5 L1087.0,625.8 L1089.0,627.1 L1091.0,628.4 L1093.0,629.8 L1095.0,631.1 L1097.0,632.4 L1099.0,633.7 L1101.0,635.1 L1103.0,636.4 L1105.0,637.8 L1107.0,639.2 L1109.0,640.6 L1111.0,642.0 L1113.0,643.4 L1115.0,644.9 L1117.0,646.4 L1119.0,647.9 L1121.0,649.4 L1123.0,650.9 L1125.0,652.5 L1127.0,654.1 L1129.0,655.8 L1131.0,657.4 L1133.0,659.1 L1135.0,660.9 L1137.0,662.6 L1139.0,664.4 L1141.0,666.2 L1143.0,668.1 L1145.0,669.9 L1147.0,671.8 L1149.0,673.7 L1151.0,675.6 L1153.0,677.5 L1155.0,679.4 L1157.0,681.3 L1159.0,683.3 L1161.0,685.2 L1163.0,687.2 L1165.0,689.1 L1167.0,691.1 L1169.0,693.0 L1171.0,695.0 L1173.0,696.9 L1175.0,698.8 L1177.0,700.8 L1179.0,702.7 L1181.0,704.6 L1183.0,706.5 L1185.0,708.3 L1187.0,710.2 L1189.0,712.0 L1191.0,713.8 L1193.0,715.6 L1195.0,717.3 L1197.0,719.0 L1199.0,720.7 L1201.0,722.3 L1203.0,723.9 L1205.0,725.5 L1207.0,727.1 L1209.0,728.6 L1211.0,730.1 L1213.0,731.5 L1215.0,733.0 L1217.0,734.4 L1219.0,735.8 L1221.0,737.2 L1223.0,738.5 L1225.0,739.9 L1227.0,741.2 L1229.0,742.5 L1231.0,743.9 L1233.0,745.2 L1235.0,746.4 L1237.0,747.7 L1239.0,749.0 L1241.0,750.3 L1243.0,751.6 L1245.0,752.8 L1247.0,754.1 L1249.0,755.4 L1251.0,756.7 L1253.0,757.9 L1255.0,759.2 L1257.0,760.5 L1259.0,761.8 L1261.0,763.1 L1263.0,764.4 L1265.0,765.7 L1267.0,767.0 L1269.0,768.3 L1271.0,769.6 L1273.0,770.9 L1275.0,772.2 L1277.0,773.5 L1279.0,774.8 L1281.0,776.1 L1283.0,777.4 L1285.0,778.7 L1287.0,780.0 L1289.0,781.3 L1291.0,782.6 L1293.0,784.0 L1295.0,785.3 L1297.0,786.6 L1299.0,787.9 L1301.0,789.2 L1303.0,790.6 L1305.0,791.9 L1307.0,793.2 L1309.0,794.5 L1311.0,795.9 L1313.0,797.2 L1315.0,798.5 L1317.0,799.9 L1319.0,801.2 L1321.0,802.5 L1323.0,803.9 L1325.0,805.2 L1327.0,806.5 L1329.0,807.9 L1331.0,809.2 L1333.0,810.5 L1335.0,811.8 L1337.0,813.2 L1339.0,814.5 L1341.0,815.8 L1343.0,817.2 L1345.0,818.5 L1347.0,819.8 L1349.0,821.1 L1351.0,822.5 L1353.0,823.8 L1355.0,825.1 L1357.0,826.4 L1359.0,827.7 L1361.0,829.0 L1363.0,830.3 L1365.0,831.6 L1367.0,832.8 L1369.0,834.1 L1371.0,835.4 L1373.0,836.6 L1375.0,837.8 L1377.0,839.1 L1379.0,840.3 L1381.0,841.5 L1383.0,842.7 L1385.0,843.9 L1387.0,845.1 L1389.0,846.3 L1391.0,847.5 L1393.0,848.6 L1395.0,849.8 L1397.0,850.9 L1399.0,852.1 L1401.0,853.2 L1403.0,854.4 L1405.0,855.5 L1407.0,856.6 L1409.0,857.8 L1411.0,858.9 L1413.0,860.0 L1415.0,861.1 L1417.0,862.2 L1419.0,863.3 L1421.0,864.4 L1423.0,865.4 L1425.0,866.5 L1427.0,867.6 L1429.0,868.6 L1431.0,869.7 L1433.0,870.7 L1435.0,871.8 L1437.0,872.8 L1439.0,873.8 L1441.0,874.8 L1443.0,875.8 L1445.0,876.8 L1447.0,877.8 L1449.0,878.7 L1451.0,879.7 L1453.0,880.7 L1455.0,881.6 L1457.0,882.5 L1459.0,883.4 L1461.0,884.4 L1463.0,885.3 L1465.0,886.1 L1467.0,887.0 L1469.0,887.9 L1471.0,888.8 L1473.0,889.6 L1475.0,890.5 L1477.0,891.4 L1479.0,892.2 L1481.0,893.1 L1483.0,893.9 L1485.0,894.7 L1487.0,895.6 L1489.0,896.4 L1491.0,897.2 L1493.0,898.1 L1495.0,898.9 L1497.0,899.7 L1499.0,900.5 L1501.0,901.4 L1503.0,902.2 L1505.0,903.0 L1507.0,903.9 L1509.0,904.7 L1511.0,905.6 L1513.0,906.4 L1515.0,907.3 L1517.0,908.2 L1519.0,909.0 L1521.0,909.9 L1523.0,910.8 L1525.0,911.7 L1527.0,912.6 L1529.0,913.4 L1531.0,914.3 L1533.0,915.2 L1535.0,916.1 L1537.0,917.0 L1539.0,917.8 L1541.0,918.7 L1543.0,919.6 L1545.0,920.4 L1547.0,921.2 L1549.0,922.1 L1551.0,922.9 L1553.0,923.7 L1555.0,924.6 L1557.0,925.4 L1559.0,926.2 L1561.0,927.0 L1563.0,927.7 L1565.0,928.5 L1567.0,929.3 L1569.0,930.0 L1571.0,930.8 L1573.0,931.5 L1575.0,932.3 L1577.0,933.0 L1579.0,933.7 L1581.0,934.4 L1583.0,935.1 L1585.0,935.8 L1587.0,936.5 L1589.0,937.2 L1591.0,937.8 L1593.0,938.5 L1595.0,939.2 L1597.0,939.8 L1599.0,940.5 L1601.0,941.1 L1603.0,941.8 L1605.0,942.4 L1607.0,943.1 L1609.0,943.7 L1611.0,944.3 L1613.0,945.0 L1615.0,945.6 L1617.0,946.2 L1619.0,946.8 L1621.0,947.4 L1623.0,948.1 L1625.0,948.7 L1627.0,949.3 L1629.0,949.9 L1631.0,950.5 L1633.0,951.1 L1635.0,951.7 L1637.0,952.3 L1639.0,952.9 L1641.0,953.5 L1643.0,954.1 L1645.0,954.7 L1647.0,955.3 L1649.0,955.9 L1651.0,956.5 L1653.0,957.1 L1655.0,957.7 L1657.0,958.3 L1659.0,958.9 L1661.0,959.4 L1663.0,960.0 L1665.0,960.6 L1667.0,961.2 L1669.0,961.8 L1671.0,962.3 L1673.0,962.9 L1675.0,963.5 L1677.0,964.1 L1679.0,964.6 L1681.0,965.2 L1683.0,965.8 L1685.0,966.3 L1687.0,966.9 L1689.0,967.4 L1691.0,968.0 L1693.0,968.6 L1695.0,969.1 L1697.0,969.7 L1699.0,970.2 L1701.0,970.8 L1703.0,971.3 L1705.0,971.9 L1707.0,972.4 L1709.0,972.9 L1711.0,973.5 L1713.0,974.0 L1715.0,974.6 L1717.0,975.1 L1719.0,975.6 L1721.0,976.1 L1723.0,976.7 L1725.0,977.2 L1727.0,977.7 L1729.0,978.2 L1731.0,978.8 L1733.0,979.3 L1735.0,979.8 L1737.0,980.3 L1739.0,980.8 L1741.0,981.3 L1743.0,981.8 L1745.0,982.3 L1747.0,982.9 L1749.0,983.4 L1751.0,983.9 L1753.0,984.4 L1755.0,984.9 L1757.0,985.4 L1759.0,985.9 L1761.0,986.3 L1763.0,986.8 L1765.0,987.3 L1767.0,987.8 L1769.0,988.3 L1771.0,988.8 L1773.0,989.2 L1775.0,989.7 L1777.0,990.2 L1779.0,990.6 L1781.0,991.1 L1783.0,991.5 L1785.0,992.0 L1787.0,992.4 L1789.0,992.9 L1791.0,993.3 L1793.0,993.7 L1795.0,994.1 L1797.0,994.6 L1799.0,995.0 L1801.0,995.4 L1803.0,995.8 L1805.0,996.2 L1807.0,996.6 L1809.0,997.0 L1811.0,997.4 L1813.0,997.8 L1815.0,998.2 L1817.0,998.6 L1819.0,999.0 L1821.0,999.4 L1823.0,999.8 L1825.0,1000.2 L1827.0,1000.6 L1829.0,1001.0 L1831.0,1001.4 L1833.0,1001.8 L1835.0,1002.2 L1837.0,1002.6 L1839.0,1002.9 L1841.0,1003.3 L1843.0,1003.7 L1845.0,1004.0 L1847.0,1004.4 L1849.0,1004.7 L1851.0,1005.1 L1853.0,1005.4 L1855.0,1005.8 L1857.0,1006.1 L1859.0,1006.4 L1861.0,1006.8 L1863.0,1007.1 L1865.0,1007.4 L1867.0,1007.7 L1869.0,1008.0 L1871.0,1008.4 L1873.0,1008.7 L1875.0,1009.0 L1877.0,1009.3 L1879.0,1009.7 L1881.0,1010.0 L1883.0,1010.3 L1885.0,1010.6 L1887.0,1010.9 L1889.0,1011.2 L1891.0,1011.6 L1893.0,1011.9 L1895.0,1012.2 L1897.0,1012.5 L1899.0,1012.8 L1901.0,1013.1 L1903.0,1013.5 L1905.0,1013.8 L1907.0,1014.1 L1909.0,1014.4 L1911.0,1014.7 L1913.0,1015.0 L1915.0,1015.3 L1917.0,1015.6 L1919.0,1015.9 L1921.0,1016.3 L1923.0,1016.6 L1925.0,1016.9 L1927.0,1017.2 L1929.0,1017.5 L1931.0,1017.8 L1933.0,1018.1 L1935.0,1018.4 L1937.0,1018.7 L1939.0,1019.0 L1941.0,1019.3 L1943.0,1019.5 L1945.0,1019.8 L1947.0,1020.1 L1949.0,1020.4 L1951.0,1020.7 L1953.0,1021.0 L1955.0,1021.3 L1957.0,1021.6 L1959.0,1021.8 L1961.0,1022.1 L1963.0,1022.4 L1965.0,1022.7 L1967.0,1023.0 L1969.0,1023.2 L1971.0,1023.5 L1973.0,1023.8 L1975.0,1024.0 L1977.0,1024.3 L1979.0,1024.6 L1981.0,1024.8 L1983.0,1025.1 L1985.0,1025.4 L1987.0,1025.6 L1989.0,1025.9 L1991.0,1026.1 L1993.0,1026.4 L1995.0,1026.7 L1997.0,1026.9 L1999.0,1027.2 L2001.0,1027.4 L2003.0,1027.7 L2005.0,1027.9 L2007.0,1028.2 L2009.0,1028.4 L2011.0,1028.7 L2013.0,1028.9 L2015.0,1029.2 L2017.0,1029.4 L2019.0,1029.7 L2021.0,1029.9 L2023.0,1030.2 L2025.0,1030.4 L2027.0,1030.7 L2029.0,1030.9 L2031.0,1031.1 L2033.0,1031.4 L2035.0,1031.6 L2037.0,1031.9 L2039.0,1032.1 L2041.0,1032.3 L2043.0,1032.6 L2045.0,1032.8 L2047.0,1033.1 L2049.0,1033.3 L2051.0,1033.5 L2053.0,1033.8 L2055.0,1034.0 L2057.0,1034.2 L2059.0,1034.5 L2061.0,1034.7 L2063.0,1034.9 L2065.0,1035.1 L2067.0,1035.4 L2069.0,1035.6 L2071.0,1035.8 L2073.0,1036.1 L2075.0,1036.3 L2077.0,1036.5 L2079.0,1036.7 L2081.0,1036.9 L2083.0,1037.2 L2085.0,1037.4 L2087.0,1037.6 L2089.0,1037.8 L2091.0,1038.0 L2093.0,1038.2 L2095.0,1038.5 L2097.0,1038.7 L2099.0,1038.9 L2101.0,1039.1 L2103.0,1039.3 L2105.0,1039.5 L2107.0,1039.7 L2109.0,1039.9 L2111.0,1040.1 L2113.0,1040.3 L2115.0,1040.5 L2117.0,1040.7 L2119.0,1040.9 L2121.0,1041.1 L2123.0,1041.3 L2125.0,1041.5 L2127.0,1041.7 L2129.0,1041.9 L2131.0,1042.1 L2133.0,1042.3 L2135.0,1042.4 L2137.0,1042.6 L2139.0,1042.8 L2141.0,1043.0 L2143.0,1043.2 L2145.0,1043.4 L2147.0,1043.6 L2149.0,1043.8 L2151.0,1043.9 L2153.0,1044.1 L2155.0,1044.3 L2157.0,1044.5 L2159.0,1044.7 L2161.0,1044.8 L2163.0,1045.0 L2165.0,1045.2 L2167.0,1045.4 L2169.0,1045.6 L2171.0,1045.7 L2173.0,1045.9 L2175.0,1046.1 L2177.0,1046.3 L2179.0,1046.5 L2181.0,1046.6 L2183.0,1046.8 L2185.0,1047.0 L2187.0,1047.2 L2189.0,1047.3 L2191.0,1047.5 L2193.0,1047.7 L2195.0,1047.9 L2196.6,1048.0 L2202.6,1048.5" stroke="#DA4541"/>
<path d="M327.0,279.9 L333.0,285.1 L335.0,286.8 L337.0,288.5 L339.0,290.3 L341.0,292.0 L343.0,293.7 L345.0,295.4 L347.0,297.0 L349.0,298.7 L351.0,300.4 L353.0,302.0 L355.0,303.6 L357.0,305.3 L359.0,306.8 L361.0,308.4 L363.0,309.9 L365.0,311.4 L367.0,312.9 L369.0,314.4 L371.0,315.8 L373.0,317.1 L375.0,318.5 L377.0,319.8 L379.0,321.0 L381.0,322.2 L383.0,323.3 L385.0,324.4 L387.0,325.4 L389.0,326.4 L391.0,327.2 L393.0,328.0 L395.0,328.8 L397.0,329.4 L399.0,330.0 L401.0,330.4 L403.0,330.8 L405.0,331.0 L407.0,331.2 L409.0,331.3 L411.0,331.3 L413.0,331.2 L415.0,331.0 L417.0,330.8 L419.0,330.6 L421.0,330.3 L423.0,330.0 L425.0,329.7 L427.0,329.4 L429.0,329.1 L431.0,328.8 L433.0,328.4 L435.0,328.1 L437.0,327.9 L439.0,327.6 L441.0,327.3 L443.0,327.0 L445.0,326.8 L447.0,326.5 L449.0,326.3 L451.0,326.0 L453.0,325.8 L455.0,325.6 L457.0,325.4 L459.0,325.1 L461.0,324.9 L463.0,324.7 L465.0,324.5 L467.0,324.3 L469.0,324.1 L471.0,324.0 L473.0,323.8 L475.0,323.6 L477.0,323.4 L479.0,323.2 L481.0,323.1 L483.0,322.9 L485.0,322.8 L487.0,322.6 L489.0,322.4 L491.0,322.3 L493.0,322.1 L495.0,322.0 L497.0,321.9 L499.0,321.7 L501.0,321.6 L503.0,321.5 L505.0,321.3 L507.0,321.2 L509.0,321.1 L511.0,321.0 L513.0,320.9 L515.0,320.8 L517.0,320.7 L519.0,320.6 L521.0,320.5 L523.0,320.4 L525.0,320.3 L527.0,320.2 L529.0,320.1 L531.0,320.1 L533.0,320.0 L535.0,319.9 L537.0,319.8 L539.0,319.8 L541.0,319.7 L543.0,319.6 L545.0,319.5 L547.0,319.5 L549.0,319.4 L551.0,319.4 L553.0,319.3 L555.0,319.2 L557.0,319.2 L559.0,319.1 L561.0,319.0 L563.0,319.0 L565.0,318.9 L567.0,318.9 L569.0,318.8 L571.0,318.7 L573.0,318.7 L575.0,318.6 L577.0,318.5 L579.0,318.4 L581.0,318.4 L583.0,318.3 L585.0,318.2 L587.0,318.1 L589.0,318.0 L591.0,317.9 L593.0,317.8 L595.0,317.7 L597.0,317.6 L599.0,317.5 L601.0,317.4 L603.0,317.2 L605.0,317.1 L607.0,317.0 L609.0,316.8 L611.0,316.7 L613.0,316.5 L615.0,316.3 L617.0,316.1 L619.0,315.9 L621.0,315.7 L623.0,315.4 L625.0,315.2 L627.0,314.9 L629.0,314.6 L631.0,314.3 L633.0,314.0 L635.0,313.7 L637.0,313.3 L639.0,313.0 L641.0,312.6 L643.0,312.2 L645.0,311.7 L647.0,311.3 L649.0,310.8 L651.0,310.3 L653.0,309.8 L655.0,309.3 L657.0,308.8 L659.0,308.2 L661.0,307.7 L663.0,307.1 L665.0,306.5 L667.0,305.9 L669.0,305.4 L671.0,304.8 L673.0,304.2 L675.0,303.6 L677.0,303.0 L679.0,302.4 L681.0,301.8 L683.0,301.2 L685.0,300.7 L687.0,300.1 L689.0,299.5 L691.0,299.0 L693.0,298.5 L695.0,298.0 L697.0,297.5 L699.0,297.0 L701.0,296.5 L703.0,296.1 L705.0,295.7 L707.0,295.3 L709.0,294.9 L711.0,294.6 L713.0,294.3 L715.0,294.0 L717.0,293.7 L719.0,293.4 L721.0,293.2 L723.0,292.9 L725.0,292.7 L727.0,292.5 L729.0,292.3 L731.0,292.1 L733.0,291.9 L735.0,291.7 L737.0,291.5 L739.0,291.4 L741.0,291.2 L743.0,291.0 L745.0,290.9 L747.0,290.7 L749.0,290.5 L751.0,290.4 L753.0,290.2 L755.0,290.0 L757.0,289.9 L759.0,289.7 L761.0,289.5 L763.0,289.3 L765.0,289.1 L767.0,288.9 L769.0,288.6 L771.0,288.4 L773.0,288.2 L775.0,287.9 L777.0,287.7 L779.0,287.5 L781.0,287.2 L783.0,287.0 L785.0,286.7 L787.0,286.5 L789.0,286.2 L791.0,286.0 L793.0,285.7 L795.0,285.5 L797.0,285.2 L799.0,285.0 L801.0,284.7 L803.0,284.5 L805.0,284.3 L807.0,284.0 L809.0,283.8 L811.0,283.6 L813.0,283.4 L815.0,283.2 L817.0,283.0 L819.0,282.8 L821.0,282.6 L823.0,282.4 L825.0,282.2 L827.0,282.1 L829.0,281.9 L831.0,281.8 L833.0,281.7 L835.0,281.5 L837.0,281.4 L839.0,281.3 L841.0,281.3 L843.0,281.2 L845.0,281.1 L847.0,281.1 L849.0,281.1 L851.0,281.0 L853.0,281.0 L855.0,281.0 L857.0,281.0 L859.0,281.1 L861.0,281.1 L863.0,281.2 L865.0,281.2 L867.0,281.3 L869.0,281.4 L871.0,281.5 L873.0,281.7 L875.0,281.8 L877.0,282.0 L879.0,282.2 L881.0,282.4 L883.0,282.6 L885.0,282.9 L887.0,283.1 L889.0,283.5 L891.0,283.8 L893.0,284.1 L895.0,284.5 L897.0,284.9 L899.0,285.4 L901.0,285.8 L903.0,286.3 L905.0,286.8 L907.0,287.3 L909.0,287.9 L911.0,288.5 L913.0,289.1 L915.0,289.7 L917.0,290.3 L919.0,291.0 L921.0,291.6 L923.0,292.3 L925.0,293.0 L927.0,293.7 L929.0,294.5 L931.0,295.2 L933.0,296.0 L935.0,296.8 L937.0,297.6 L939.0,298.4 L941.0,299.2 L943.0,300.0 L945.0,300.8 L947.0,301.7 L949.0,302.5 L951.0,303.3 L953.0,304.1 L955.0,304.9 L957.0,305.7 L959.0,306.6 L961.0,307.4 L963.0,308.2 L965.0,309.0 L967.0,309.8 L969.0,310.6 L971.0,311.5 L973.0,312.3 L975.0,313.2 L977.0,314.1 L979.0,315.0 L981.0,316.0 L983.0,316.9 L985.0,317.9 L987.0,318.9 L989.0,320.0 L991.0,321.1 L993.0,322.2 L995.0,323.3 L997.0,324.5 L999.0,325.7 L1001.0,326.9 L1003.0,328.2 L1005.0,329.5 L1007.0,330.9 L1009.0,332.3 L1011.0,333.7 L1013.0,335.1 L1015.0,336.6 L1017.0,338.0 L1019.0,339.5 L1021.0,341.1 L1023.0,342.6 L1025.0,344.1 L1027.0,345.7 L1029.0,347.2 L1031.0,348.8 L1033.0,350.4 L1035.0,352.0 L1037.0,353.5 L1039.0,355.1 L1041.0,356.7 L1043.0,358.3 L1045.0,359.9 L1047.0,361.5 L1049.0,363.2 L1051.0,364.8 L1053.0,366.4 L1055.0,368.0 L1057.0,369.6 L1059.0,371.3 L1061.0,372.9 L1063.0,374.5 L1065.0,376.2 L1067.0,377.8 L1069.0,379.5 L1071.0,381.1 L1073.0,382.8 L1075.0,384.5 L1077.0,386.1 L1079.0,387.8 L1081.0,389.5 L1083.0,391.2 L1085.0,392.9 L1087.0,394.7 L1089.0,396.4 L1091.0,398.2 L1093.0,399.9 L1095.0,401.7 L1097.0,403.5 L1099.0,405.3 L1101.0,407.1 L1103.0,408.9 L1105.0,410.8 L1107.0,412.6 L1109.0,414.5 L1111.0,416.4 L1113.0,418.3 L1115.0,420.2 L1117.0,422.2 L1119.0,424.1 L1121.0,426.1 L1123.0,428.1 L1125.0,430.1 L1127.0,432.1 L1129.0,434.2 L1131.0,436.2 L1133.0,438.3 L1135.0,440.4 L1137.0,442.5 L1139.0,444.6 L1141.0,446.8 L1143.0,449.0 L1145.0,451.1 L1147.0,453.3 L1149.0,455.5 L1151.0,457.8 L1153.0,460.0 L1155.0,462.3 L1157.0,464.6 L1159.0,466.9 L1161.0,469.2 L1163.0,471.5 L1165.0,473.8 L1167.0,476.1 L1169.0,478.4 L1171.0,480.8 L1173.0,483.1 L1175.0,485.4 L1177.0,487.8 L1179.0,490.1 L1181.0,492.4 L1183.0,494.7 L1185.0,497.1 L1187.0,499.4 L1189.0,501.7 L1191.0,504.0 L1193.0,506.3 L1195.0,508.7 L1197.0,511.0 L1199.0,513.3 L1201.0,515.7 L1203.0,518.0 L1205.0,520.4 L1207.0,522.7 L1209.0,525.1 L1211.0,527.5 L1213.0,529.9 L1215.0,532.3 L1217.0,534.7 L1219.0,537.1 L1221.0,539.5 L1223.0,541.9 L1225.0,544.3 L1227.0,546.7 L1229.0,549.1 L1231.0,551.6 L1233.0,554.0 L1235.0,556.4 L1237.0,558.9 L1239.0,561.3 L1241.0,563.8 L1243.0,566.2 L1245.0,568.7 L1247.0,571.1 L1249.0,573.5 L1251.0,576.0 L1253.0,578.4 L1255.0,580.9 L1257.0,583.3 L1259.0,585.7 L1261.0,588.1 L1263.0,590.6 L1265.0,593.0 L1267.0,595.4 L1269.0,597.8 L1271.0,600.2 L1273.0,602.5 L1275.0,604.9 L1277.0,607.3 L1279.0,609.7 L1281.0,612.0 L1283.0,614.4 L1285.0,616.7 L1287.0,619.1 L1289.0,621.4 L1291.0,623.7 L1293.0,626.1 L1295.0,628.4 L1297.0,630.7 L1299.0,633.0 L1301.0,635.3 L1303.0,637.6 L1305.0,639.8 L1307.0,642.1 L1309.0,644.4 L1311.0,646.7 L1313.0,648.9 L1315.0,651.2 L1317.0,653.4 L1319.0,655.6 L1321.0,657.9 L1323.0,660.1 L1325.0,662.3 L1327.0,664.5 L1329.0,666.7 L1331.0,668.9 L1333.0,671.1 L1335.0,673.3 L1337.0,675.5 L1339.0,677.6 L1341.0,679.8 L1343.0,682.0 L1345.0,684.1 L1347.0,686.3 L1349.0,688.5 L1351.0,690.6 L1353.0,692.8 L1355.0,694.9 L1357.0,697.1 L1359.0,699.2 L1361.0,701.3 L1363.0,703.5 L1365.0,705.6 L1367.0,707.8 L1369.0,709.9 L1371.0,712.0 L1373.0,714.2 L1375.0,716.3 L1377.0,718.4 L1379.0,720.5 L1381.0,722.6 L1383.0,724.7 L1385.0,726.8 L1387.0,728.9 L1389.0,731.0 L1391.0,733.0 L1393.0,735.1 L1395.0,737.1 L1397.0,739.1 L1399.0,741.1 L1401.0,743.1 L1403.0,745.1 L1405.0,747.1 L1407.0,749.0 L1409.0,751.0 L1411.0,752.9 L1413.0,754.8 L1415.0,756.7 L1417.0,758.5 L1419.0,760.4 L1421.0,762.2 L1423.0,764.0 L1425.0,765.8 L1427.0,767.5 L1429.0,769.3 L1431.0,771.0 L1433.0,772.7 L1435.0,774.4 L1437.0,776.1 L1439.0,777.8 L1441.0,779.5 L1443.0,781.2 L1445.0,782.8 L1447.0,784.5 L1449.0,786.1 L1451.0,787.8 L1453.0,789.4 L1455.0,791.1 L1457.0,792.7 L1459.0,794.3 L1461.0,796.0 L1463.0,797.6 L1465.0,799.2 L1467.0,800.8 L1469.0,802.4 L1471.0,804.0 L1473.0,805.7 L1475.0,807.3 L1477.0,808.9 L1479.0,810.5 L1481.0,812.0 L1483.0,813.6 L1485.0,815.2 L1487.0,816.8 L1489.0,818.3 L1491.0,819.9 L1493.0,821.4 L1495.0,822.9 L1497.0,824.5 L1499.0,826.0 L1501.0,827.5 L1503.0,829.0 L1505.0,830.5 L1507.0,832.0 L1509.0,833.5 L1511.0,835.0 L1513.0,836.5 L1515.0,838.0 L1517.0,839.5 L1519.0,841.0 L1521.0,842.4 L1523.0,843.9 L1525.0,845.3 L1527.0,846.8 L1529.0,848.2 L1531.0,849.6 L1533.0,851.1 L1535.0,852.5 L1537.0,853.9 L1539.0,855.3 L1541.0,856.7 L1543.0,858.1 L1545.0,859.6 L1547.0,861.0 L1549.0,862.4 L1551.0,863.8 L1553.0,865.2 L1555.0,866.6 L1557.0,868.0 L1559.0,869.4 L1561.0,870.8 L1563.0,872.2 L1565.0,873.6 L1567.0,875.0 L1569.0,876.5 L1571.0,877.9 L1573.0,879.2 L1575.0,880.6 L1577.0,882.0 L1579.0,883.4 L1581.0,884.7 L1583.0,886.1 L1585.0,887.4 L1587.0,888.7 L1589.0,890.0 L1591.0,891.3 L1593.0,892.6 L1595.0,893.8 L1597.0,895.0 L1599.0,896.2 L1601.0,897.4 L1603.0,898.5 L1605.0,899.6 L1607.0,900.7 L1609.0,901.8 L1611.0,902.8 L1613.0,903.8 L1615.0,904.8 L1617.0,905.8 L1619.0,906.8 L1621.0,907.8 L1623.0,908.8 L1625.0,909.7 L1627.0,910.7 L1629.0,911.6 L1631.0,912.5 L1633.0,913.5 L1635.0,914.4 L1637.0,915.4 L1639.0,916.3 L1641.0,917.2 L1643.0,918.2 L1645.0,919.1 L1647.0,920.1 L1649.0,921.0 L1651.0,922.0 L1653.0,922.9 L1655.0,923.9 L1657.0,924.8 L1659.0,925.8 L1661.0,926.7 L1663.0,927.7 L1665.0,928.7 L1667.0,929.6 L1669.0,930.6 L1671.0,931.6 L1673.0,932.5 L1675.0,933.5 L1677.0,934.5 L1679.0,935.5 L1681.0,936.4 L1683.0,937.4 L1685.0,938.4 L1687.0,939.4 L1689.0,940.3 L1691.0,941.3 L1693.0,942.3 L1695.0,943.3 L1697.0,944.2 L1699.0,945.2 L1701.0,946.1 L1703.0,947.1 L1705.0,948.0 L1707.0,949.0 L1709.0,949.9 L1711.0,950.8 L1713.0,951.8 L1715.0,952.7 L1717.0,953.6 L1719.0,954.5 L1721.0,955.3 L1723.0,956.2 L1725.0,957.1 L1727.0,957.9 L1729.0,958.7 L1731.0,959.6 L1733.0,960.4 L1735.0,961.2 L1737.0,962.0 L1739.0,962.8 L1741.0,963.5 L1743.0,964.3 L1745.0,965.1 L1747.0,965.8 L1749.0,966.6 L1751.0,967.3 L1753.0,968.0 L1755.0,968.8 L1757.0,969.5 L1759.0,970.2 L1761.0,970.9 L1763.0,971.6 L1765.0,972.3 L1767.0,973.0 L1769.0,973.7 L1771.0,974.4 L1773.0,975.1 L1775.0,975.7 L1777.0,976.4 L1779.0,977.1 L1781.0,977.8 L1783.0,978.4 L1785.0,979.1 L1787.0,979.8 L1789.0,980.4 L1791.0,981.1 L1793.0,981.8 L1795.0,982.4 L1797.0,983.1 L1799.0,983.7 L1801.0,984.4 L1803.0,985.0 L1805.0,985.7 L1807.0,986.4 L1809.0,987.0 L1811.0,987.7 L1813.0,988.3 L1815.0,989.0 L1817.0,989.6 L1819.0,990.2 L1821.0,990.9 L1823.0,991.5 L1825.0,992.2 L1827.0,992.8 L1829.0,993.4 L1831.0,994.1 L1833.0,994.7 L1835.0,995.3 L1837.0,996.0 L1839.0,996.6 L1841.0,997.2 L1843.0,997.8 L1845.0,998.5 L1847.0,999.1 L1849.0,999.7 L1851.0,1000.3 L1853.0,1000.9 L1855.0,1001.5 L1857.0,1002.1 L1859.0,1002.7 L1861.0,1003.3 L1863.0,1003.9 L1865.0,1004.5 L1867.0,1005.1 L1869.0,1005.7 L1871.0,1006.2 L1873.0,1006.8 L1875.0,1007.3 L1877.0,1007.9 L1879.0,1008.4 L1881.0,1008.9 L1883.0,1009.5 L1885.0,1010.0 L1887.0,1010.5 L1889.0,1011.0 L1891.0,1011.5 L1893.0,1012.0 L1895.0,1012.6 L1897.0,1013.1 L1899.0,1013.6 L1901.0,1014.1 L1903.0,1014.6 L1905.0,1015.1 L1907.0,1015.6 L1909.0,1016.1 L1911.0,1016.6 L1913.0,1017.1 L1915.0,1017.6 L1917.0,1018.1 L1919.0,1018.6 L1921.0,1019.1 L1923.0,1019.6 L1925.0,1020.1 L1927.0,1020.6 L1929.0,1021.1 L1931.0,1021.6 L1933.0,1022.1 L1935.0,1022.6 L1937.0,1023.1 L1939.0,1023.6 L1941.0,1024.1 L1943.0,1024.7 L1945.0,1025.2 L1947.0,1025.7 L1949.0,1026.2 L1951.0,1026.7 L1953.0,1027.2 L1955.0,1027.7 L1957.0,1028.2 L1959.0,1028.7 L1961.0,1029.2 L1963.0,1029.7 L1965.0,1030.2 L1967.0,1030.7 L1969.0,1031.2 L1971.0,1031.7 L1973.0,1032.2 L1975.0,1032.6 L1977.0,1033.1 L1979.0,1033.6 L1981.0,1034.0 L1983.0,1034.5 L1985.0,1034.9 L1987.0,1035.4 L1989.0,1035.8 L1991.0,1036.2 L1993.0,1036.6 L1995.0,1037.1 L1997.0,1037.5 L1999.0,1037.9 L2001.0,1038.3 L2003.0,1038.6 L2005.0,1039.0 L2007.0,1039.4 L2009.0,1039.8 L2011.0,1040.1 L2013.0,1040.5 L2015.0,1040.8 L2017.0,1041.2 L2019.0,1041.5 L2021.0,1041.9 L2023.0,1042.2 L2025.0,1042.5 L2027.0,1042.9 L2029.0,1043.2 L2031.0,1043.5 L2033.0,1043.8 L2035.0,1044.1 L2037.0,1044.4 L2039.0,1044.7 L2041.0,1045.0 L2043.0,1045.3 L2045.0,1045.6 L2047.0,1045.8 L2049.0,1046.1 L2051.0,1046.4 L2053.0,1046.7 L2055.0,1046.9 L2057.0,1047.2 L2059.0,1047.5 L2061.0,1047.7 L2063.0,1048.0 L2065.0,1048.2 L2067.0,1048.5 L2069.0,1048.8 L2071.0,1049.0 L2073.0,1049.3 L2075.0,1049.6 L2077.0,1049.9 L2079.0,1050.1 L2081.0,1050.4 L2083.0,1050.7 L2085.0,1051.0 L2087.0,1051.3 L2089.0,1051.6 L2091.0,1051.9 L2093.0,1052.3 L2095.0,1052.6 L2097.0,1052.9 L2099.0,1053.2 L2101.0,1053.5 L2103.0,1053.8 L2105.0,1054.1 L2107.0,1054.5 L2109.0,1054.8 L2111.0,1055.1 L2113.0,1055.4 L2115.0,1055.7 L2117.0,1056.0 L2119.0,1056.2 L2121.0,1056.5 L2123.0,1056.8 L2125.0,1057.1 L2127.0,1057.3 L2129.0,1057.6 L2131.0,1057.9 L2133.0,1058.1 L2135.0,1058.4 L2137.0,1058.6 L2139.0,1058.9 L2141.0,1059.1 L2143.0,1059.3 L2145.0,1059.6 L2147.0,1059.8 L2149.0,1060.0 L2151.0,1060.3 L2153.0,1060.5 L2155.0,1060.7 L2157.0,1060.9 L2159.0,1061.1 L2161.0,1061.3 L2163.0,1061.5 L2165.0,1061.7 L2167.0,1061.9 L2169.0,1062.1 L2171.0,1062.3 L2173.0,1062.5 L2175.0,1062.7 L2177.0,1062.9 L2179.0,1063.1 L2181.0,1063.2 L2183.0,1063.4 L2185.0,1063.6 L2187.0,1063.8 L2189.0,1064.0 L2191.0,1064.1 L2193.0,1064.3 L2195.0,1064.5 L2196.6,1064.7 L2202.6,1065.2" stroke="#87B946"/>
<path d="M327.0,280.8 L333.0,285.0 L335.0,286.4 L337.0,287.8 L339.0,289.2 L341.0,290.6 L343.0,292.0 L345.0,293.4 L347.0,294.8 L349.0,296.2 L351.0,297.5 L353.0,298.9 L355.0,300.3 L357.0,301.7 L359.0,303.0 L361.0,304.3 L363.0,305.6 L365.0,306.9 L367.0,308.1 L369.0,309.3 L371.0,310.4 L373.0,311.5 L375.0,312.5 L377.0,313.5 L379.0,314.4 L381.0,315.2 L383.0,316.0 L385.0,316.6 L387.0,317.2 L389.0,317.7 L391.0,318.1 L393.0,318.5 L395.0,318.7 L397.0,318.8 L399.0,318.8 L401.0,318.7 L403.0,318.6 L405.0,318.3 L407.0,317.9 L409.0,317.5 L411.0,316.9 L413.0,316.3 L415.0,315.7 L417.0,314.9 L419.0,314.1 L421.0,313.3 L423.0,312.4 L425.0,311.5 L427.0,310.6 L429.0,309.6 L431.0,308.7 L433.0,307.7 L435.0,306.7 L437.0,305.8 L439.0,304.8 L441.0,303.9 L443.0,303.0 L445.0,302.1 L447.0,301.2 L449.0,300.4 L451.0,299.6 L453.0,298.8 L455.0,298.1 L457.0,297.4 L459.0,296.7 L461.0,296.1 L463.0,295.5 L465.0,294.9 L467.0,294.3 L469.0,293.7 L471.0,293.2 L473.0,292.6 L475.0,292.1 L477.0,291.6 L479.0,291.1 L481.0,290.6 L483.0,290.2 L485.0,289.7 L487.0,289.3 L489.0,288.9 L491.0,288.5 L493.0,288.1 L495.0,287.7 L497.0,287.3 L499.0,287.0 L501.0,286.6 L503.0,286.3 L505.0,286.0 L507.0,285.8 L509.0,285.5 L511.0,285.2 L513.0,285.0 L515.0,284.8 L517.0,284.6 L519.0,284.4 L521.0,284.2 L523.0,284.0 L525.0,283.8 L527.0,283.7 L529.0,283.5 L531.0,283.4 L533.0,283.3 L535.0,283.2 L537.0,283.0 L539.0,282.9 L541.0,282.8 L543.0,282.8 L545.0,282.7 L547.0,282.6 L549.0,282.5 L551.0,282.5 L553.0,282.4 L555.0,282.3 L557.0,282.3 L559.0,282.2 L561.0,282.2 L563.0,282.1 L565.0,282.1 L567.0,282.0 L569.0,282.0 L571.0,282.0 L573.0,281.9 L575.0,281.9 L577.0,281.8 L579.0,281.8 L581.0,281.7 L583.0,281.7 L585.0,281.6 L587.0,281.6 L589.0,281.5 L591.0,281.4 L593.0,281.4 L595.0,281.3 L597.0,281.2 L599.0,281.1 L601.0,281.0 L603.0,280.9 L605.0,280.8 L607.0,280.7 L609.0,280.6 L611.0,280.4 L613.0,280.3 L615.0,280.1 L617.0,280.0 L619.0,279.8 L621.0,279.6 L623.0,279.4 L625.0,279.2 L627.0,278.9 L629.0,278.7 L631.0,278.4 L633.0,278.1 L635.0,277.8 L637.0,277.5 L639.0,277.1 L641.0,276.8 L643.0,276.4 L645.0,276.0 L647.0,275.6 L649.0,275.2 L651.0,274.8 L653.0,274.4 L655.0,274.0 L657.0,273.5 L659.0,273.1 L661.0,272.6 L663.0,272.2 L665.0,271.7 L667.0,271.3 L669.0,270.8 L671.0,270.3 L673.0,269.9 L675.0,269.4 L677.0,268.9 L679.0,268.5 L681.0,268.0 L683.0,267.6 L685.0,267.2 L687.0,266.8 L689.0,266.4 L691.0,266.0 L693.0,265.6 L695.0,265.2 L697.0,264.9 L699.0,264.5 L701.0,264.2 L703.0,263.9 L705.0,263.6 L707.0,263.4 L709.0,263.1 L711.0,262.8 L713.0,262.6 L715.0,262.4 L717.0,262.1 L719.0,261.9 L721.0,261.7 L723.0,261.5 L725.0,261.4 L727.0,261.2 L729.0,261.0 L731.0,260.8 L733.0,260.7 L735.0,260.5 L737.0,260.4 L739.0,260.2 L741.0,260.1 L743.0,260.0 L745.0,259.8 L747.0,259.7 L749.0,259.5 L751.0,259.4 L753.0,259.2 L755.0,259.1 L757.0,258.9 L759.0,258.7 L761.0,258.6 L763.0,258.4 L765.0,258.2 L767.0,258.1 L769.0,257.9 L771.0,257.7 L773.0,257.5 L775.0,257.4 L777.0,257.2 L779.0,257.0 L781.0,256.8 L783.0,256.6 L785.0,256.4 L787.0,256.3 L789.0,256.1 L791.0,255.9 L793.0,255.7 L795.0,255.5 L797.0,255.3 L799.0,255.1 L801.0,254.9 L803.0,254.7 L805.0,254.5 L807.0,254.4 L809.0,254.2 L811.0,254.0 L813.0,253.8 L815.0,253.7 L817.0,253.5 L819.0,253.4 L821.0,253.2 L823.0,253.1 L825.0,253.0 L827.0,252.8 L829.0,252.7 L831.0,252.6 L833.0,252.5 L835.0,252.5 L837.0,252.4 L839.0,252.3 L841.0,252.3 L843.0,252.3 L845.0,252.2 L847.0,252.2 L849.0,252.2 L851.0,252.2 L853.0,252.3 L855.0,252.3 L857.0,252.4 L859.0,252.4 L861.0,252.5 L863.0,252.6 L865.0,252.7 L867.0,252.9 L869.0,253.0 L871.0,253.2 L873.0,253.4 L875.0,253.6 L877.0,253.8 L879.0,254.1 L881.0,254.3 L883.0,254.6 L885.0,255.0 L887.0,255.3 L889.0,255.7 L891.0,256.0 L893.0,256.4 L895.0,256.9 L897.0,257.3 L899.0,257.8 L901.0,258.3 L903.0,258.8 L905.0,259.3 L907.0,259.9 L909.0,260.4 L911.0,261.0 L913.0,261.6 L915.0,262.2 L917.0,262.8 L919.0,263.4 L921.0,264.1 L923.0,264.7 L925.0,265.4 L927.0,266.0 L929.0,266.7 L931.0,267.4 L933.0,268.1 L935.0,268.8 L937.0,269.5 L939.0,270.2 L941.0,270.9 L943.0,271.6 L945.0,272.3 L947.0,273.0 L949.0,273.7 L951.0,274.4 L953.0,275.1 L955.0,275.8 L957.0,276.5 L959.0,277.2 L961.0,277.9 L963.0,278.6 L965.0,279.4 L967.0,280.1 L969.0,280.8 L971.0,281.5 L973.0,282.2 L975.0,283.0 L977.0,283.7 L979.0,284.4 L981.0,285.2 L983.0,285.9 L985.0,286.7 L987.0,287.4 L989.0,288.2 L991.0,289.0 L993.0,289.8 L995.0,290.6 L997.0,291.5 L999.0,292.3 L1001.0,293.2 L1003.0,294.0 L1005.0,294.9 L1007.0,295.8 L1009.0,296.8 L1011.0,297.7 L1013.0,298.7 L1015.0,299.7 L1017.0,300.7 L1019.0,301.7 L1021.0,302.7 L1023.0,303.8 L1025.0,304.8 L1027.0,305.9 L1029.0,307.0 L1031.0,308.1 L1033.0,309.3 L1035.0,310.4 L1037.0,311.6 L1039.0,312.8 L1041.0,314.0 L1043.0,315.2 L1045.0,316.4 L1047.0,317.7 L1049.0,318.9 L1051.0,320.2 L1053.0,321.5 L1055.0,322.8 L1057.0,324.1 L1059.0,325.5 L1061.0,326.8 L1063.0,328.2 L1065.0,329.6 L1067.0,331.0 L1069.0,332.4 L1071.0,333.8 L1073.0,335.3 L1075.0,336.7 L1077.0,338.2 L1079.0,339.6 L1081.0,341.1 L1083.0,342.6 L1085.0,344.1 L1087.0,345.7 L1089.0,347.2 L1091.0,348.7 L1093.0,350.3 L1095.0,351.8 L1097.0,353.4 L1099.0,354.9 L1101.0,356.5 L1103.0,358.1 L1105.0,359.7 L1107.0,361.3 L1109.0,362.9 L1111.0,364.5 L1113.0,366.2 L1115.0,367.8 L1117.0,369.5 L1119.0,371.2 L1121.0,372.9 L1123.0,374.6 L1125.0,376.3 L1127.0,378.1 L1129.0,379.9 L1131.0,381.7 L1133.0,383.5 L1135.0,385.3 L1137.0,387.1 L1139.0,389.0 L1141.0,390.9 L1143.0,392.8 L1145.0,394.8 L1147.0,396.8 L1149.0,398.8 L1151.0,400.8 L1153.0,402.9 L1155.0,405.0 L1157.0,407.1 L1159.0,409.2 L1161.0,411.4 L1163.0,413.6 L1165.0,415.9 L1167.0,418.1 L1169.0,420.4 L1171.0,422.7 L1173.0,425.1 L1175.0,427.4 L1177.0,429.8 L1179.0,432.2 L1181.0,434.6 L1183.0,437.0 L1185.0,439.4 L1187.0,441.8 L1189.0,444.2 L1191.0,446.7 L1193.0,449.1 L1195.0,451.5 L1197.0,453.9 L1199.0,456.4 L1201.0,458.8 L1203.0,461.2 L1205.0,463.6 L1207.0,465.9 L1209.0,468.3 L1211.0,470.7 L1213.0,473.0 L1215.0,475.3 L1217.0,477.7 L1219.0,480.0 L1221.0,482.3 L1223.0,484.6 L1225.0,486.9 L1227.0,489.2 L1229.0,491.5 L1231.0,493.7 L1233.0,496.0 L1235.0,498.2 L1237.0,500.5 L1239.0,502.7 L1241.0,505.0 L1243.0,507.2 L1245.0,509.4 L1247.0,511.6 L1249.0,513.9 L1251.0,516.1 L1253.0,518.3 L1255.0,520.5 L1257.0,522.7 L1259.0,524.9 L1261.0,527.0 L1263.0,529.2 L1265.0,531.4 L1267.0,533.7 L1269.0,535.9 L1271.0,538.1 L1273.0,540.3 L1275.0,542.6 L1277.0,544.9 L1279.0,547.1 L1281.0,549.4 L1283.0,551.8 L1285.0,554.1 L1287.0,556.4 L1289.0,558.7 L1291.0,561.1 L1293.0,563.5 L1295.0,565.8 L1297.0,568.2 L1299.0,570.6 L1301.0,573.0 L1303.0,575.4 L1305.0,577.7 L1307.0,580.1 L1309.0,582.5 L1311.0,584.9 L1313.0,587.4 L1315.0,589.8 L1317.0,592.2 L1319.0,594.6 L1321.0,597.0 L1323.0,599.4 L1325.0,601.8 L1327.0,604.2 L1329.0,606.5 L1331.0,608.9 L1333.0,611.3 L1335.0,613.7 L1337.0,616.0 L1339.0,618.4 L1341.0,620.7 L1343.0,623.1 L1345.0,625.4 L1347.0,627.7 L1349.0,630.0 L1351.0,632.3 L1353.0,634.5 L1355.0,636.8 L1357.0,639.1 L1359.0,641.3 L1361.0,643.5 L1363.0,645.8 L1365.0,648.0 L1367.0,650.2 L1369.0,652.4 L1371.0,654.6 L1373.0,656.8 L1375.0,659.0 L1377.0,661.2 L1379.0,663.4 L1381.0,665.6 L1383.0,667.8 L1385.0,670.0 L1387.0,672.2 L1389.0,674.4 L1391.0,676.6 L1393.0,678.8 L1395.0,680.9 L1397.0,683.1 L1399.0,685.2 L1401.0,687.4 L1403.0,689.5 L1405.0,691.6 L1407.0,693.7 L1409.0,695.8 L1411.0,697.9 L1413.0,699.9 L1415.0,702.0 L1417.0,704.0 L1419.0,706.0 L1421.0,708.0 L1423.0,710.0 L1425.0,712.0 L1427.0,714.0 L1429.0,716.0 L1431.0,718.0 L1433.0,719.9 L1435.0,721.9 L1437.0,723.8 L1439.0,725.7 L1441.0,727.7 L1443.0,729.6 L1445.0,731.5 L1447.0,733.4 L1449.0,735.3 L1451.0,737.2 L1453.0,739.1 L1455.0,741.0 L1457.0,742.8 L1459.0,744.7 L1461.0,746.6 L1463.0,748.4 L1465.0,750.3 L1467.0,752.1 L1469.0,754.0 L1471.0,755.8 L1473.0,757.7 L1475.0,759.5 L1477.0,761.3 L1479.0,763.2 L1481.0,765.0 L1483.0,766.8 L1485.0,768.6 L1487.0,770.4 L1489.0,772.2 L1491.0,774.0 L1493.0,775.8 L1495.0,777.6 L1497.0,779.4 L1499.0,781.2 L1501.0,783.0 L1503.0,784.8 L1505.0,786.5 L1507.0,788.3 L1509.0,790.1 L1511.0,791.8 L1513.0,793.6 L1515.0,795.3 L1517.0,797.1 L1519.0,798.8 L1521.0,800.6 L1523.0,802.3 L1525.0,804.1 L1527.0,805.8 L1529.0,807.5 L1531.0,809.2 L1533.0,811.0 L1535.0,812.7 L1537.0,814.4 L1539.0,816.1 L1541.0,817.8 L1543.0,819.5 L1545.0,821.2 L1547.0,822.9 L1549.0,824.6 L1551.0,826.3 L1553.0,827.9 L1555.0,829.6 L1557.0,831.3 L1559.0,832.9 L1561.0,834.6 L1563.0,836.2 L1565.0,837.8 L1567.0,839.5 L1569.0,841.1 L1571.0,842.7 L1573.0,844.2 L1575.0,845.8 L1577.0,847.4 L1579.0,848.9 L1581.0,850.4 L1583.0,852.0 L1585.0,853.5 L1587.0,854.9 L1589.0,856.4 L1591.0,857.9 L1593.0,859.3 L1595.0,860.7 L1597.0,862.1 L1599.0,863.4 L1601.0,864.8 L1603.0,866.1 L1605.0,867.4 L1607.0,868.6 L1609.0,869.9 L1611.0,871.1 L1613.0,872.3 L1615.0,873.5 L1617.0,874.7 L1619.0,875.8 L1621.0,877.0 L1623.0,878.1 L1625.0,879.2 L1627.0,880.4 L1629.0,881.5 L1631.0,882.6 L1633.0,883.7 L1635.0,884.8 L1637.0,885.9 L1639.0,887.0 L1641.0,888.1 L1643.0,889.2 L1645.0,890.2 L1647.0,891.3 L1649.0,892.4 L1651.0,893.5 L1653.0,894.6 L1655.0,895.7 L1657.0,896.8 L1659.0,897.9 L1661.0,899.1 L1663.0,900.2 L1665.0,901.3 L1667.0,902.4 L1669.0,903.6 L1671.0,904.7 L1673.0,905.9 L1675.0,907.0 L1677.0,908.2 L1679.0,909.4 L1681.0,910.5 L1683.0,911.7 L1685.0,912.9 L1687.0,914.1 L1689.0,915.3 L1691.0,916.5 L1693.0,917.7 L1695.0,918.9 L1697.0,920.1 L1699.0,921.3 L1701.0,922.6 L1703.0,923.8 L1705.0,925.0 L1707.0,926.2 L1709.0,927.4 L1711.0,928.6 L1713.0,929.8 L1715.0,931.0 L1717.0,932.2 L1719.0,933.3 L1721.0,934.5 L1723.0,935.6 L1725.0,936.7 L1727.0,937.8 L1729.0,938.8 L1731.0,939.9 L1733.0,940.9 L1735.0,941.9 L1737.0,942.9 L1739.0,943.9 L1741.0,944.9 L1743.0,945.9 L1745.0,946.8 L1747.0,947.8 L1749.0,948.7 L1751.0,949.6 L1753.0,950.6 L1755.0,951.5 L1757.0,952.4 L1759.0,953.3 L1761.0,954.2 L1763.0,955.1 L1765.0,955.9 L1767.0,956.8 L1769.0,957.7 L1771.0,958.5 L1773.0,959.3 L1775.0,960.2 L1777.0,961.0 L1779.0,961.8 L1781.0,962.6 L1783.0,963.4 L1785.0,964.2 L1787.0,964.9 L1789.0,965.7 L1791.0,966.4 L1793.0,967.2 L1795.0,967.9 L1797.0,968.6 L1799.0,969.3 L1801.0,970.0 L1803.0,970.8 L1805.0,971.5 L1807.0,972.2 L1809.0,972.9 L1811.0,973.6 L1813.0,974.3 L1815.0,975.0 L1817.0,975.7 L1819.0,976.4 L1821.0,977.2 L1823.0,977.9 L1825.0,978.6 L1827.0,979.4 L1829.0,980.1 L1831.0,980.8 L1833.0,981.6 L1835.0,982.3 L1837.0,983.0 L1839.0,983.8 L1841.0,984.5 L1843.0,985.2 L1845.0,985.9 L1847.0,986.6 L1849.0,987.4 L1851.0,988.1 L1853.0,988.7 L1855.0,989.4 L1857.0,990.1 L1859.0,990.8 L1861.0,991.5 L1863.0,992.1 L1865.0,992.8 L1867.0,993.5 L1869.0,994.1 L1871.0,994.8 L1873.0,995.4 L1875.0,996.0 L1877.0,996.7 L1879.0,997.3 L1881.0,997.9 L1883.0,998.5 L1885.0,999.2 L1887.0,999.8 L1889.0,1000.4 L1891.0,1001.0 L1893.0,1001.6 L1895.0,1002.2 L1897.0,1002.7 L1899.0,1003.3 L1901.0,1003.9 L1903.0,1004.5 L1905.0,1005.1 L1907.0,1005.6 L1909.0,1006.2 L1911.0,1006.8 L1913.0,1007.3 L1915.0,1007.9 L1917.0,1008.4 L1919.0,1009.0 L1921.0,1009.5 L1923.0,1010.1 L1925.0,1010.6 L1927.0,1011.2 L1929.0,1011.7 L1931.0,1012.3 L1933.0,1012.8 L1935.0,1013.4 L1937.0,1013.9 L1939.0,1014.5 L1941.0,1015.0 L1943.0,1015.5 L1945.0,1016.1 L1947.0,1016.6 L1949.0,1017.2 L1951.0,1017.7 L1953.0,1018.3 L1955.0,1018.9 L1957.0,1019.4 L1959.0,1020.0 L1961.0,1020.5 L1963.0,1021.1 L1965.0,1021.7 L1967.0,1022.2 L1969.0,1022.8 L1971.0,1023.4 L1973.0,1023.9 L1975.0,1024.5 L1977.0,1025.1 L1979.0,1025.6 L1981.0,1026.2 L1983.0,1026.8 L1985.0,1027.3 L1987.0,1027.9 L1989.0,1028.4 L1991.0,1029.0 L1993.0,1029.5 L1995.0,1030.1 L1997.0,1030.6 L1999.0,1031.1 L2001.0,1031.6 L2003.0,1032.2 L2005.0,1032.7 L2007.0,1033.2 L2009.0,1033.7 L2011.0,1034.1 L2013.0,1034.6 L2015.0,1035.1 L2017.0,1035.6 L2019.0,1036.0 L2021.0,1036.5 L2023.0,1036.9 L2025.0,1037.4 L2027.0,1037.8 L2029.0,1038.2 L2031.0,1038.7 L2033.0,1039.1 L2035.0,1039.5 L2037.0,1039.9 L2039.0,1040.3 L2041.0,1040.7 L2043.0,1041.0 L2045.0,1041.4 L2047.0,1041.8 L2049.0,1042.1 L2051.0,1042.5 L2053.0,1042.8 L2055.0,1043.2 L2057.0,1043.5 L2059.0,1043.8 L2061.0,1044.1 L2063.0,1044.4 L2065.0,1044.8 L2067.0,1045.1 L2069.0,1045.4 L2071.0,1045.7 L2073.0,1046.0 L2075.0,1046.3 L2077.0,1046.6 L2079.0,1046.9 L2081.0,1047.2 L2083.0,1047.5 L2085.0,1047.8 L2087.0,1048.1 L2089.0,1048.4 L2091.0,1048.7 L2093.0,1049.0 L2095.0,1049.4 L2097.0,1049.7 L2099.0,1050.0 L2101.0,1050.3 L2103.0,1050.6 L2105.0,1050.9 L2107.0,1051.2 L2109.0,1051.5 L2111.0,1051.8 L2113.0,1052.1 L2115.0,1052.4 L2117.0,1052.7 L2119.0,1053.0 L2121.0,1053.2 L2123.0,1053.5 L2125.0,1053.8 L2127.0,1054.1 L2129.0,1054.3 L2131.0,1054.6 L2133.0,1054.8 L2135.0,1055.1 L2137.0,1055.4 L2139.0,1055.6 L2141.0,1055.9 L2143.0,1056.1 L2145.0,1056.4 L2147.0,1056.6 L2149.0,1056.9 L2151.0,1057.1 L2153.0,1057.4 L2155.0,1057.6 L2157.0,1057.9 L2159.0,1058.1 L2161.0,1058.4 L2163.0,1058.6 L2165.0,1058.9 L2167.0,1059.1 L2169.0,1059.3 L2171.0,1059.6 L2173.0,1059.8 L2175.0,1060.1 L2177.0,1060.3 L2179.0,1060.5 L2181.0,1060.8 L2183.0,1061.0 L2185.0,1061.3 L2187.0,1061.5 L2189.0,1061.7 L2191.0,1062.0 L2193.0,1062.2 L2195.0,1062.4 L2196.6,1062.6 L2202.6,1063.3" stroke="#845DA1"/>
<path d="M327.0,281.6 L333.0,285.6 L335.0,286.9 L337.0,288.2 L339.0,289.5 L341.0,290.7 L343.0,291.9 L345.0,293.1 L347.0,294.3 L349.0,295.4 L351.0,296.5 L353.0,297.6 L355.0,298.7 L357.0,299.8 L359.0,300.9 L361.0,302.0 L363.0,303.1 L365.0,304.1 L367.0,305.2 L369.0,306.2 L371.0,307.2 L373.0,308.1 L375.0,309.0 L377.0,309.9 L379.0,310.7 L381.0,311.4 L383.0,312.1 L385.0,312.7 L387.0,313.2 L389.0,313.6 L391.0,313.9 L393.0,314.2 L395.0,314.3 L397.0,314.3 L399.0,314.3 L401.0,314.1 L403.0,313.9 L405.0,313.6 L407.0,313.2 L409.0,312.7 L411.0,312.1 L413.0,311.5 L415.0,310.8 L417.0,310.1 L419.0,309.3 L421.0,308.4 L423.0,307.5 L425.0,306.6 L427.0,305.6 L429.0,304.6 L431.0,303.6 L433.0,302.6 L435.0,301.6 L437.0,300.5 L439.0,299.5 L441.0,298.4 L443.0,297.4 L445.0,296.4 L447.0,295.3 L449.0,294.3 L451.0,293.3 L453.0,292.3 L455.0,291.3 L457.0,290.3 L459.0,289.3 L461.0,288.3 L463.0,287.4 L465.0,286.4 L467.0,285.5 L469.0,284.6 L471.0,283.7 L473.0,282.8 L475.0,281.9 L477.0,281.1 L479.0,280.3 L481.0,279.5 L483.0,278.7 L485.0,277.9 L487.0,277.1 L489.0,276.3 L491.0,275.6 L493.0,274.9 L495.0,274.1 L497.0,273.4 L499.0,272.8 L501.0,272.1 L503.0,271.5 L505.0,270.8 L507.0,270.2 L509.0,269.6 L511.0,269.1 L513.0,268.5 L515.0,268.0 L517.0,267.6 L519.0,267.1 L521.0,266.7 L523.0,266.3 L525.0,265.9 L527.0,265.6 L529.0,265.3 L531.0,265.0 L533.0,264.7 L535.0,264.5 L537.0,264.3 L539.0,264.1 L541.0,263.9 L543.0,263.8 L545.0,263.6 L547.0,263.5 L549.0,263.4 L551.0,263.3 L553.0,263.3 L555.0,263.2 L557.0,263.2 L559.0,263.1 L561.0,263.1 L563.0,263.1 L565.0,263.1 L567.0,263.1 L569.0,263.1 L571.0,263.2 L573.0,263.2 L575.0,263.2 L577.0,263.3 L579.0,263.3 L581.0,263.4 L583.0,263.4 L585.0,263.5 L587.0,263.5 L589.0,263.6 L591.0,263.6 L593.0,263.7 L595.0,263.8 L597.0,263.8 L599.0,263.9 L601.0,263.9 L603.0,264.0 L605.0,264.0 L607.0,264.1 L609.0,264.1 L611.0,264.2 L613.0,264.2 L615.0,264.2 L617.0,264.2 L619.0,264.2 L621.0,264.2 L623.0,264.1 L625.0,264.1 L627.0,264.0 L629.0,263.9 L631.0,263.7 L633.0,263.6 L635.0,263.4 L637.0,263.2 L639.0,263.0 L641.0,262.8 L643.0,262.5 L645.0,262.2 L647.0,261.9 L649.0,261.6 L651.0,261.2 L653.0,260.8 L655.0,260.4 L657.0,260.0 L659.0,259.6 L661.0,259.2 L663.0,258.7 L665.0,258.2 L667.0,257.7 L669.0,257.3 L671.0,256.8 L673.0,256.2 L675.0,255.7 L677.0,255.2 L679.0,254.7 L681.0,254.2 L683.0,253.6 L685.0,253.1 L687.0,252.6 L689.0,252.1 L691.0,251.6 L693.0,251.0 L695.0,250.5 L697.0,250.0 L699.0,249.5 L701.0,249.1 L703.0,248.6 L705.0,248.1 L707.0,247.7 L709.0,247.2 L711.0,246.8 L713.0,246.4 L715.0,246.0 L717.0,245.6 L719.0,245.2 L721.0,244.9 L723.0,244.5 L725.0,244.2 L727.0,243.8 L729.0,243.5 L731.0,243.2 L733.0,242.9 L735.0,242.6 L737.0,242.4 L739.0,242.1 L741.0,241.8 L743.0,241.6 L745.0,241.3 L747.0,241.1 L749.0,240.9 L751.0,240.6 L753.0,240.4 L755.0,240.2 L757.0,239.9 L759.0,239.7 L761.0,239.5 L763.0,239.3 L765.0,239.1 L767.0,238.9 L769.0,238.7 L771.0,238.5 L773.0,238.3 L775.0,238.1 L777.0,237.9 L779.0,237.7 L781.0,237.4 L783.0,237.2 L785.0,237.0 L787.0,236.8 L789.0,236.6 L791.0,236.4 L793.0,236.2 L795.0,236.0 L797.0,235.8 L799.0,235.6 L801.0,235.4 L803.0,235.2 L805.0,235.0 L807.0,234.8 L809.0,234.6 L811.0,234.4 L813.0,234.2 L815.0,234.1 L817.0,233.9 L819.0,233.7 L821.0,233.6 L823.0,233.4 L825.0,233.3 L827.0,233.1 L829.0,233.0 L831.0,232.9 L833.0,232.8 L835.0,232.7 L837.0,232.7 L839.0,232.6 L841.0,232.5 L843.0,232.5 L845.0,232.5 L847.0,232.5 L849.0,232.5 L851.0,232.5 L853.0,232.5 L855.0,232.6 L857.0,232.7 L859.0,232.7 L861.0,232.8 L863.0,232.9 L865.0,233.1 L867.0,233.2 L869.0,233.4 L871.0,233.6 L873.0,233.8 L875.0,234.0 L877.0,234.2 L879.0,234.5 L881.0,234.7 L883.0,235.0 L885.0,235.3 L887.0,235.7 L889.0,236.0 L891.0,236.3 L893.0,236.7 L895.0,237.1 L897.0,237.5 L899.0,238.0 L901.0,238.4 L903.0,238.9 L905.0,239.3 L907.0,239.8 L909.0,240.3 L911.0,240.9 L913.0,241.4 L915.0,241.9 L917.0,242.5 L919.0,243.1 L921.0,243.7 L923.0,244.3 L925.0,244.9 L927.0,245.6 L929.0,246.2 L931.0,246.9 L933.0,247.6 L935.0,248.3 L937.0,249.0 L939.0,249.7 L941.0,250.4 L943.0,251.1 L945.0,251.9 L947.0,252.6 L949.0,253.4 L951.0,254.2 L953.0,254.9 L955.0,255.7 L957.0,256.5 L959.0,257.3 L961.0,258.1 L963.0,258.9 L965.0,259.7 L967.0,260.6 L969.0,261.4 L971.0,262.2 L973.0,263.1 L975.0,263.9 L977.0,264.8 L979.0,265.6 L981.0,266.5 L983.0,267.4 L985.0,268.3 L987.0,269.2 L989.0,270.1 L991.0,271.0 L993.0,271.9 L995.0,272.9 L997.0,273.8 L999.0,274.8 L1001.0,275.8 L1003.0,276.8 L1005.0,277.8 L1007.0,278.9 L1009.0,279.9 L1011.0,281.0 L1013.0,282.1 L1015.0,283.2 L1017.0,284.3 L1019.0,285.5 L1021.0,286.7 L1023.0,287.8 L1025.0,289.0 L1027.0,290.3 L1029.0,291.5 L1031.0,292.8 L1033.0,294.1 L1035.0,295.4 L1037.0,296.7 L1039.0,298.0 L1041.0,299.4 L1043.0,300.8 L1045.0,302.2 L1047.0,303.6 L1049.0,305.0 L1051.0,306.5 L1053.0,307.9 L1055.0,309.4 L1057.0,310.8 L1059.0,312.3 L1061.0,313.8 L1063.0,315.3 L1065.0,316.8 L1067.0,318.3 L1069.0,319.8 L1071.0,321.3 L1073.0,322.8 L1075.0,324.4 L1077.0,325.9 L1079.0,327.4 L1081.0,329.0 L1083.0,330.5 L1085.0,332.1 L1087.0,333.6 L1089.0,335.2 L1091.0,336.8 L1093.0,338.3 L1095.0,339.9 L1097.0,341.5 L1099.0,343.1 L1101.0,344.7 L1103.0,346.3 L1105.0,347.9 L1107.0,349.5 L1109.0,351.2 L1111.0,352.8 L1113.0,354.5 L1115.0,356.1 L1117.0,357.8 L1119.0,359.5 L1121.0,361.2 L1123.0,362.9 L1125.0,364.6 L1127.0,366.3 L1129.0,368.0 L1131.0,369.8 L1133.0,371.5 L1135.0,373.3 L1137.0,375.1 L1139.0,376.9 L1141.0,378.7 L1143.0,380.5 L1145.0,382.4 L1147.0,384.2 L1149.0,386.1 L1151.0,388.0 L1153.0,389.9 L1155.0,391.8 L1157.0,393.7 L1159.0,395.7 L1161.0,397.7 L1163.0,399.7 L1165.0,401.7 L1167.0,403.7 L1169.0,405.8 L1171.0,407.9 L1173.0,410.0 L1175.0,412.1 L1177.0,414.2 L1179.0,416.4 L1181.0,418.5 L1183.0,420.7 L1185.0,422.8 L1187.0,425.0 L1189.0,427.2 L1191.0,429.4 L1193.0,431.7 L1195.0,433.9 L1197.0,436.1 L1199.0,438.4 L1201.0,440.6 L1203.0,442.9 L1205.0,445.1 L1207.0,447.4 L1209.0,449.7 L1211.0,452.0 L1213.0,454.3 L1215.0,456.6 L1217.0,458.9 L1219.0,461.2 L1221.0,463.5 L1223.0,465.9 L1225.0,468.2 L1227.0,470.5 L1229.0,472.9 L1231.0,475.2 L1233.0,477.5 L1235.0,479.9 L1237.0,482.2 L1239.0,484.6 L1241.0,486.9 L1243.0,489.3 L1245.0,491.6 L1247.0,494.0 L1249.0,496.3 L1251.0,498.7 L1253.0,501.0 L1255.0,503.4 L1257.0,505.7 L1259.0,508.0 L1261.0,510.4 L1263.0,512.7 L1265.0,515.0 L1267.0,517.3 L1269.0,519.6 L1271.0,521.9 L1273.0,524.2 L1275.0,526.5 L1277.0,528.8 L1279.0,531.1 L1281.0,533.4 L1283.0,535.7 L1285.0,538.0 L1287.0,540.3 L1289.0,542.6 L1291.0,544.9 L1293.0,547.2 L1295.0,549.5 L1297.0,551.8 L1299.0,554.1 L1301.0,556.5 L1303.0,558.8 L1305.0,561.1 L1307.0,563.4 L1309.0,565.8 L1311.0,568.1 L1313.0,570.4 L1315.0,572.8 L1317.0,575.1 L1319.0,577.4 L1321.0,579.8 L1323.0,582.1 L1325.0,584.4 L1327.0,586.7 L1329.0,589.0 L1331.0,591.3 L1333.0,593.7 L1335.0,596.0 L1337.0,598.2 L1339.0,600.5 L1341.0,602.8 L1343.0,605.1 L1345.0,607.4 L1347.0,609.6 L1349.0,611.9 L1351.0,614.1 L1353.0,616.4 L1355.0,618.6 L1357.0,620.9 L1359.0,623.1 L1361.0,625.4 L1363.0,627.6 L1365.0,629.9 L1367.0,632.1 L1369.0,634.4 L1371.0,636.6 L1373.0,638.9 L1375.0,641.1 L1377.0,643.4 L1379.0,645.7 L1381.0,648.0 L1383.0,650.2 L1385.0,652.5 L1387.0,654.8 L1389.0,657.0 L1391.0,659.3 L1393.0,661.6 L1395.0,663.8 L1397.0,666.1 L1399.0,668.3 L1401.0,670.5 L1403.0,672.7 L1405.0,674.9 L1407.0,677.1 L1409.0,679.3 L1411.0,681.5 L1413.0,683.6 L1415.0,685.7 L1417.0,687.8 L1419.0,689.9 L1421.0,692.0 L1423.0,694.1 L1425.0,696.2 L1427.0,698.2 L1429.0,700.2 L1431.0,702.2 L1433.0,704.2 L1435.0,706.2 L1437.0,708.2 L1439.0,710.2 L1441.0,712.1 L1443.0,714.1 L1445.0,716.0 L1447.0,717.9 L1449.0,719.8 L1451.0,721.7 L1453.0,723.6 L1455.0,725.5 L1457.0,727.3 L1459.0,729.2 L1461.0,731.1 L1463.0,732.9 L1465.0,734.8 L1467.0,736.7 L1469.0,738.5 L1471.0,740.4 L1473.0,742.2 L1475.0,744.0 L1477.0,745.9 L1479.0,747.7 L1481.0,749.5 L1483.0,751.3 L1485.0,753.2 L1487.0,755.0 L1489.0,756.8 L1491.0,758.6 L1493.0,760.4 L1495.0,762.2 L1497.0,764.0 L1499.0,765.7 L1501.0,767.5 L1503.0,769.3 L1505.0,771.1 L1507.0,772.8 L1509.0,774.6 L1511.0,776.3 L1513.0,778.1 L1515.0,779.8 L1517.0,781.6 L1519.0,783.3 L1521.0,785.0 L1523.0,786.7 L1525.0,788.4 L1527.0,790.2 L1529.0,791.9 L1531.0,793.6 L1533.0,795.2 L1535.0,796.9 L1537.0,798.6 L1539.0,800.3 L1541.0,801.9 L1543.0,803.6 L1545.0,805.3 L1547.0,806.9 L1549.0,808.5 L1551.0,810.2 L1553.0,811.8 L1555.0,813.4 L1557.0,815.0 L1559.0,816.6 L1561.0,818.2 L1563.0,819.8 L1565.0,821.4 L1567.0,822.9 L1569.0,824.5 L1571.0,826.0 L1573.0,827.6 L1575.0,829.1 L1577.0,830.6 L1579.0,832.1 L1581.0,833.6 L1583.0,835.1 L1585.0,836.6 L1587.0,838.0 L1589.0,839.5 L1591.0,840.9 L1593.0,842.3 L1595.0,843.8 L1597.0,845.2 L1599.0,846.6 L1601.0,848.0 L1603.0,849.4 L1605.0,850.7 L1607.0,852.1 L1609.0,853.5 L1611.0,854.8 L1613.0,856.2 L1615.0,857.5 L1617.0,858.8 L1619.0,860.2 L1621.0,861.5 L1623.0,862.8 L1625.0,864.1 L1627.0,865.4 L1629.0,866.7 L1631.0,867.9 L1633.0,869.2 L1635.0,870.5 L1637.0,871.7 L1639.0,873.0 L1641.0,874.3 L1643.0,875.5 L1645.0,876.8 L1647.0,878.0 L1649.0,879.3 L1651.0,880.5 L1653.0,881.8 L1655.0,883.0 L1657.0,884.2 L1659.0,885.5 L1661.0,886.7 L1663.0,887.9 L1665.0,889.1 L1667.0,890.3 L1669.0,891.5 L1671.0,892.7 L1673.0,893.9 L1675.0,895.1 L1677.0,896.3 L1679.0,897.4 L1681.0,898.6 L1683.0,899.7 L1685.0,900.8 L1687.0,901.9 L1689.0,903.0 L1691.0,904.1 L1693.0,905.2 L1695.0,906.2 L1697.0,907.3 L1699.0,908.3 L1701.0,909.4 L1703.0,910.4 L1705.0,911.4 L1707.0,912.4 L1709.0,913.4 L1711.0,914.4 L1713.0,915.4 L1715.0,916.4 L1717.0,917.4 L1719.0,918.4 L1721.0,919.4 L1723.0,920.4 L1725.0,921.4 L1727.0,922.3 L1729.0,923.3 L1731.0,924.3 L1733.0,925.2 L1735.0,926.2 L1737.0,927.1 L1739.0,928.1 L1741.0,929.0 L1743.0,930.0 L1745.0,930.9 L1747.0,931.9 L1749.0,932.8 L1751.0,933.7 L1753.0,934.7 L1755.0,935.6 L1757.0,936.5 L1759.0,937.4 L1761.0,938.3 L1763.0,939.2 L1765.0,940.1 L1767.0,941.0 L1769.0,941.9 L1771.0,942.8 L1773.0,943.7 L1775.0,944.5 L1777.0,945.4 L1779.0,946.2 L1781.0,947.1 L1783.0,947.9 L1785.0,948.7 L1787.0,949.6 L1789.0,950.4 L1791.0,951.2 L1793.0,952.0 L1795.0,952.8 L1797.0,953.6 L1799.0,954.3 L1801.0,955.1 L1803.0,955.9 L1805.0,956.6 L1807.0,957.4 L1809.0,958.2 L1811.0,958.9 L1813.0,959.7 L1815.0,960.4 L1817.0,961.2 L1819.0,961.9 L1821.0,962.7 L1823.0,963.4 L1825.0,964.2 L1827.0,964.9 L1829.0,965.6 L1831.0,966.4 L1833.0,967.1 L1835.0,967.9 L1837.0,968.6 L1839.0,969.4 L1841.0,970.1 L1843.0,970.9 L1845.0,971.6 L1847.0,972.4 L1849.0,973.1 L1851.0,973.8 L1853.0,974.6 L1855.0,975.3 L1857.0,976.1 L1859.0,976.8 L1861.0,977.6 L1863.0,978.3 L1865.0,979.0 L1867.0,979.8 L1869.0,980.5 L1871.0,981.2 L1873.0,981.9 L1875.0,982.7 L1877.0,983.4 L1879.0,984.1 L1881.0,984.8 L1883.0,985.5 L1885.0,986.2 L1887.0,986.9 L1889.0,987.5 L1891.0,988.2 L1893.0,988.9 L1895.0,989.5 L1897.0,990.2 L1899.0,990.8 L1901.0,991.5 L1903.0,992.1 L1905.0,992.7 L1907.0,993.3 L1909.0,993.9 L1911.0,994.5 L1913.0,995.0 L1915.0,995.6 L1917.0,996.1 L1919.0,996.7 L1921.0,997.2 L1923.0,997.8 L1925.0,998.3 L1927.0,998.8 L1929.0,999.3 L1931.0,999.8 L1933.0,1000.4 L1935.0,1000.9 L1937.0,1001.4 L1939.0,1001.9 L1941.0,1002.4 L1943.0,1002.9 L1945.0,1003.4 L1947.0,1003.9 L1949.0,1004.4 L1951.0,1004.9 L1953.0,1005.4 L1955.0,1005.9 L1957.0,1006.4 L1959.0,1006.9 L1961.0,1007.4 L1963.0,1007.8 L1965.0,1008.3 L1967.0,1008.8 L1969.0,1009.3 L1971.0,1009.8 L1973.0,1010.3 L1975.0,1010.8 L1977.0,1011.2 L1979.0,1011.7 L1981.0,1012.2 L1983.0,1012.7 L1985.0,1013.2 L1987.0,1013.7 L1989.0,1014.1 L1991.0,1014.6 L1993.0,1015.1 L1995.0,1015.6 L1997.0,1016.1 L1999.0,1016.6 L2001.0,1017.1 L2003.0,1017.6 L2005.0,1018.0 L2007.0,1018.5 L2009.0,1019.0 L2011.0,1019.5 L2013.0,1020.0 L2015.0,1020.5 L2017.0,1021.0 L2019.0,1021.5 L2021.0,1021.9 L2023.0,1022.4 L2025.0,1022.9 L2027.0,1023.4 L2029.0,1023.8 L2031.0,1024.3 L2033.0,1024.7 L2035.0,1025.2 L2037.0,1025.6 L2039.0,1026.1 L2041.0,1026.5 L2043.0,1026.9 L2045.0,1027.4 L2047.0,1027.8 L2049.0,1028.2 L2051.0,1028.6 L2053.0,1028.9 L2055.0,1029.3 L2057.0,1029.7 L2059.0,1030.0 L2061.0,1030.4 L2063.0,1030.7 L2065.0,1031.1 L2067.0,1031.4 L2069.0,1031.7 L2071.0,1032.0 L2073.0,1032.4 L2075.0,1032.7 L2077.0,1033.0 L2079.0,1033.3 L2081.0,1033.6 L2083.0,1033.9 L2085.0,1034.3 L2087.0,1034.6 L2089.0,1034.9 L2091.0,1035.2 L2093.0,1035.6 L2095.0,1035.9 L2097.0,1036.2 L2099.0,1036.5 L2101.0,1036.8 L2103.0,1037.2 L2105.0,1037.5 L2107.0,1037.8 L2109.0,1038.1 L2111.0,1038.5 L2113.0,1038.8 L2115.0,1039.1 L2117.0,1039.4 L2119.0,1039.7 L2121.0,1040.0 L2123.0,1040.3 L2125.0,1040.7 L2127.0,1041.0 L2129.0,1041.3 L2131.0,1041.6 L2133.0,1041.9 L2135.0,1042.2 L2137.0,1042.5 L2139.0,1042.8 L2141.0,1043.1 L2143.0,1043.4 L2145.0,1043.7 L2147.0,1044.0 L2149.0,1044.3 L2151.0,1044.6 L2153.0,1044.9 L2155.0,1045.2 L2157.0,1045.5 L2159.0,1045.8 L2161.0,1046.1 L2163.0,1046.4 L2165.0,1046.7 L2167.0,1047.0 L2169.0,1047.3 L2171.0,1047.6 L2173.0,1047.8 L2175.0,1048.1 L2177.0,1048.4 L2179.0,1048.7 L2181.0,1049.0 L2183.0,1049.3 L2185.0,1049.5 L2187.0,1049.8 L2189.0,1050.1 L2191.0,1050.4 L2193.0,1050.7 L2195.0,1050.9 L2196.6,1051.2 L2202.6,1052.0" stroke="#02ADC9"/>
</g>
<text transform="translate(270,1161.5) scale(1,1.07)" text-anchor="end">0</text>
<text transform="translate(270,992.8) scale(1,1.07)" text-anchor="end">0.2</text>
<text transform="translate(270,821.1) scale(1,1.07)" text-anchor="end">0.4</text>
<text transform="translate(270,649.4) scale(1,1.07)" text-anchor="end">0.6</text>
<text transform="translate(270,480.5) scale(1,1.07)" text-anchor="end">0.8</text>
<text transform="translate(270,308.3) scale(1,1.07)" text-anchor="end">1</text>
<text transform="translate(270,137.3) scale(1,1.07)" text-anchor="end">1.2</text>
<text transform="translate(331.5,1242.5) scale(1,1.07)" text-anchor="middle">360</text>
<text transform="translate(640.7,1242.5) scale(1,1.07)" text-anchor="middle">410</text>
<text transform="translate(950.7,1242.5) scale(1,1.07)" text-anchor="middle">460</text>
<text transform="translate(1260.6,1242.5) scale(1,1.07)" text-anchor="middle">510</text>
<text transform="translate(1570.1,1242.5) scale(1,1.07)" text-anchor="middle">560</text>
<text transform="translate(1882.7,1242.5) scale(1,1.07)" text-anchor="middle">610</text>
<text transform="translate(2192.5,1242.5) scale(1,1.07)" text-anchor="middle">660</text>
<line x1="1818" y1="238.3" x2="1931" y2="238.3" stroke="#0A77BD" stroke-width="13.5" stroke-linecap="round"/>
<text transform="translate(1940,259.1) scale(1,1.07)">Jute</text>
<line x1="1818" y1="345" x2="1931" y2="345" stroke="#DA4541" stroke-width="13.5" stroke-linecap="round"/>
<text transform="translate(1940,365.8) scale(1,1.07)" letter-spacing="-2">JUV1</text>
<line x1="1818" y1="451.3" x2="1931" y2="451.3" stroke="#87B946" stroke-width="13.5" stroke-linecap="round"/>
<text transform="translate(1940,472.1) scale(1,1.07)" letter-spacing="-2">JUV2</text>
<line x1="1818" y1="555.8" x2="1931" y2="555.8" stroke="#845DA1" stroke-width="13.5" stroke-linecap="round"/>
<text transform="translate(1940,576.6) scale(1,1.07)" letter-spacing="-2">JUV3</text>
<line x1="1818" y1="662.5" x2="1931" y2="662.5" stroke="#02ADC9" stroke-width="13.5" stroke-linecap="round"/>
<text transform="translate(1940,683.3) scale(1,1.07)" letter-spacing="-2">JUV4</text>
<text class="b" x="1264" y="1338.5" text-anchor="middle">Wavelength (nm)</text>
<text class="yt" transform="translate(144,627.3) rotate(-90)" text-anchor="middle">Remission Function F(R)</text>
</g>
</svg>
</body></html>
